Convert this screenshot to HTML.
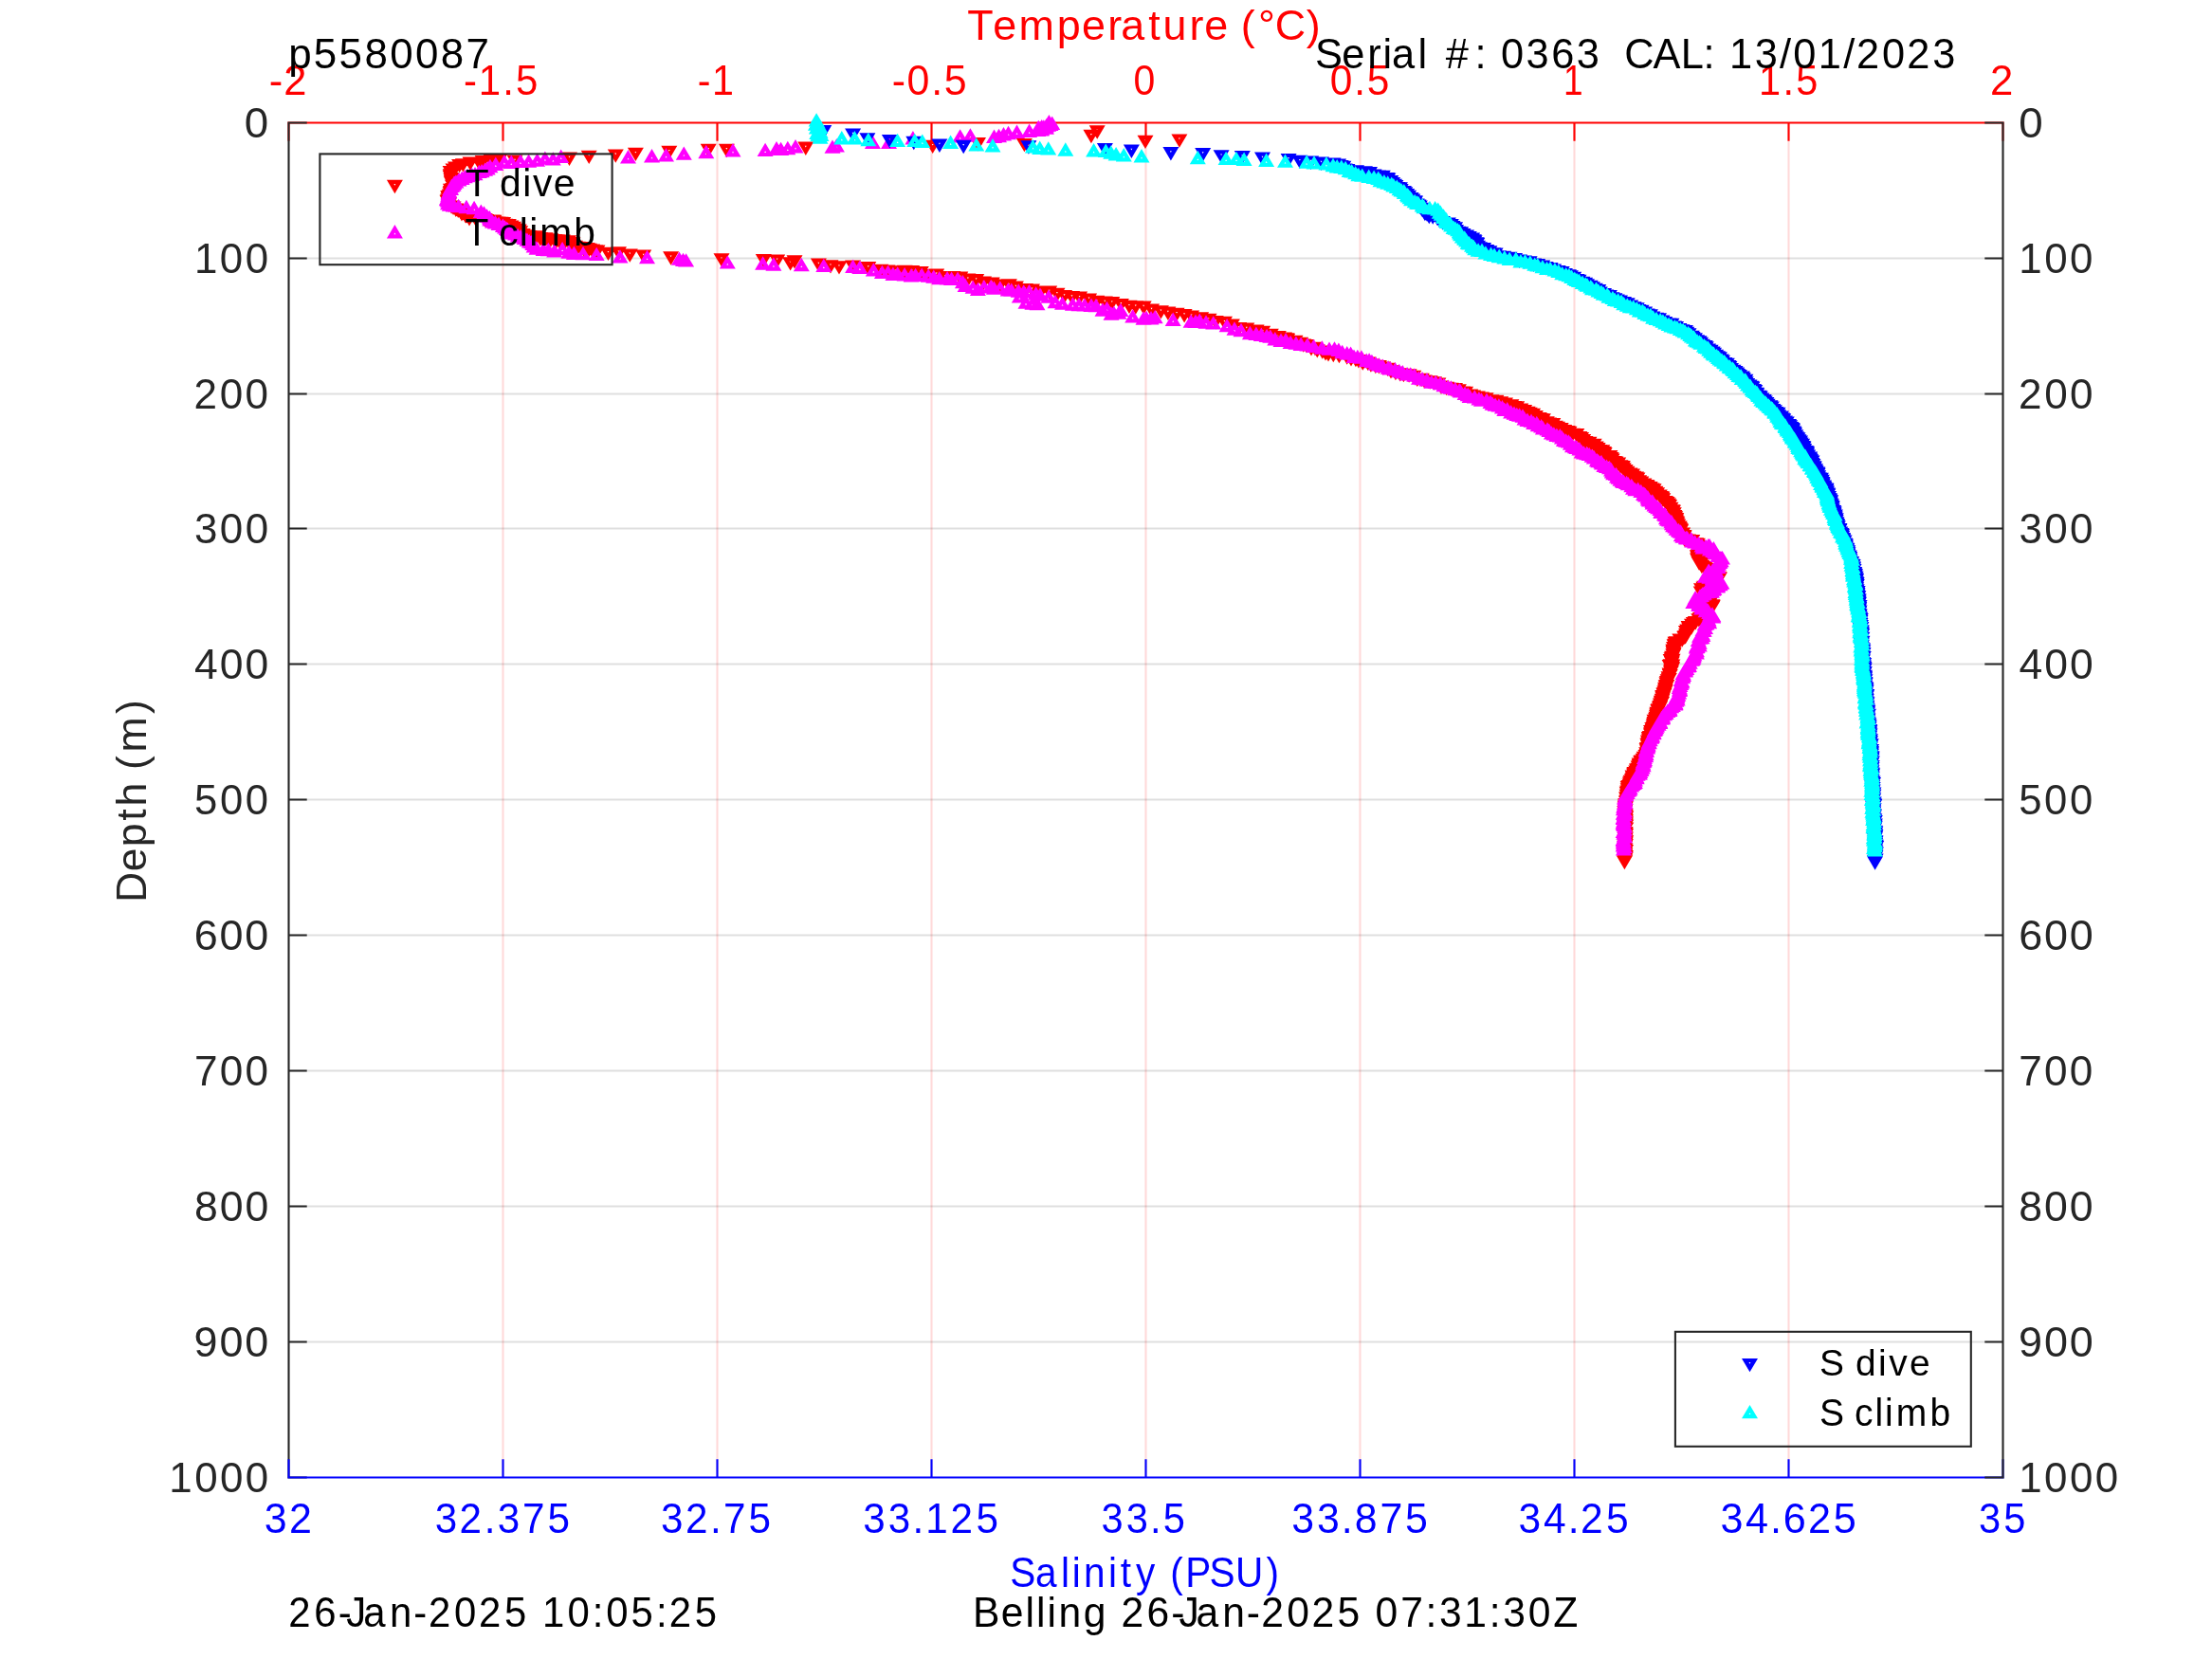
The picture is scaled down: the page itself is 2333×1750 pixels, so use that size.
<!DOCTYPE html>
<html lang="en"><head><meta charset="utf-8"><title>p5580087 CTD profile</title>
<style>html,body{margin:0;padding:0;background:#fff}body{width:2333px;height:1750px;overflow:hidden}svg{display:block;will-change:transform}text{font-family:"Liberation Sans",sans-serif;font-kerning:none;white-space:pre}</style></head><body>
<svg width="2333" height="1750" viewBox="0 0 2333 1750">
<rect width="2333" height="1750" fill="#fff"/>
<path d="M530.5 129.5V1558.5M756.5 129.5V1558.5M982.5 129.5V1558.5M1208.5 129.5V1558.5M1434.5 129.5V1558.5M1660.5 129.5V1558.5M1886.5 129.5V1558.5" stroke="#ff0000" stroke-opacity="0.15" stroke-width="2.1" fill="none"/>
<path d="M304.5 272.5H2112.5M304.5 415.5H2112.5M304.5 557.5H2112.5M304.5 700.5H2112.5M304.5 843.5H2112.5M304.5 986.5H2112.5M304.5 1129.5H2112.5M304.5 1272.5H2112.5M304.5 1415.5H2112.5" stroke="#262626" stroke-opacity="0.15" stroke-width="2.1" fill="none"/>
<path d="M303.4 129.5H2113.6M304.5 129.5v19.2M530.5 129.5v19.2M756.5 129.5v19.2M982.5 129.5v19.2M1208.5 129.5v19.2M1434.5 129.5v19.2M1660.5 129.5v19.2M1886.5 129.5v19.2M2112.5 129.5v19.2" stroke="#ff0000" stroke-width="2.1" fill="none"/>
<path d="M304.5 128.4V1559.5M304.5 129.5h19.2M304.5 272.5h19.2M304.5 415.5h19.2M304.5 557.5h19.2M304.5 700.5h19.2M304.5 843.5h19.2M304.5 986.5h19.2M304.5 1129.5h19.2M304.5 1272.5h19.2M304.5 1415.5h19.2M304.5 1558.5h19.2" stroke="#262626" stroke-width="2.1" fill="none"/>
<path d="M1243.9 155.8l-8.5 -14.4h17zM1243.9 147.3l0.9 -1.7h-1.9zM1208 157.1l-8.5 -14.4h17zM1208 148.6l0.9 -1.7h-1.9zM1157.2 146.7l-8.5 -14.4h17zM1157.2 138.2l0.9 -1.7h-1.9zM1150.9 151.2l-8.5 -14.4h17zM1150.9 142.7l0.9 -1.7h-1.9zM1080.4 160.3l-8.5 -14.4h17zM1080.4 151.8l0.9 -1.7h-1.9zM1031.5 159.5l-8.5 -14.4h17zM1031.5 151l0.9 -1.7h-1.9zM983.7 162.1l-8.5 -14.4h17zM983.7 153.6l0.9 -1.7h-1.9zM849.8 163.9l-8.5 -14.4h17zM849.8 155.4l0.9 -1.7h-1.9zM766.4 166.2l-8.5 -14.4h17zM766.4 157.7l0.9 -1.7h-1.9zM747.2 166.2l-8.5 -14.4h17zM747.2 157.7l0.9 -1.7h-1.9zM705.8 168.2l-8.5 -14.4h17zM705.8 159.7l0.9 -1.7h-1.9zM670.4 170.1l-8.5 -14.4h17zM670.4 161.6l0.9 -1.7h-1.9zM649.3 171.8l-8.5 -14.4h17zM649.3 163.3l0.9 -1.7h-1.9zM621.2 173.1l-8.5 -14.4h17zM621.2 164.6l0.9 -1.7h-1.9zM600.5 175l-8.5 -14.4h17zM600.5 166.5l0.9 -1.7h-1.9zM543 177.9l-8.5 -14.4h17zM543 169.4l0.9 -1.7h-1.9zM526.4 177.3l-8.5 -14.4h17zM518 177.1l-8.5 -14.4h17zM509.2 178.4l-8.5 -14.4h17zM505.7 180.3l-8.5 -14.4h17zM496 180l-8.5 -14.4h17zM488.4 181.6l-8.5 -14.4h17zM484.6 182.3l-8.5 -14.4h17zM480.5 184.8l-8.5 -14.4h17zM478.3 186.8l-8.5 -14.4h17zM478 187l-8.5 -14.4h17zM475.1 189.4l-8.5 -14.4h17zM476.1 190.8l-8.5 -14.4h17zM475.2 192.7l-8.5 -14.4h17zM475.1 194.1l-8.5 -14.4h17zM476 196.3l-8.5 -14.4h17zM475.9 197.6l-8.5 -14.4h17zM476.2 199.7l-8.5 -14.4h17zM476.5 200.8l-8.5 -14.4h17zM477.7 203.4l-8.5 -14.4h17zM477.6 204.5l-8.5 -14.4h17zM477.7 207.3l-8.5 -14.4h17zM475.4 208.2l-8.5 -14.4h17zM475.4 210.4l-8.5 -14.4h17zM475 211.7l-8.5 -14.4h17zM474.2 213.8l-8.5 -14.4h17zM472.7 215.4l-8.5 -14.4h17zM473.3 217.5l-8.5 -14.4h17zM472.6 218.9l-8.5 -14.4h17zM471.9 220.1l-8.5 -14.4h17zM473.6 222.1l-8.5 -14.4h17zM473.2 224l-8.5 -14.4h17zM476.1 225.8l-8.5 -14.4h17zM478.1 226.9l-8.5 -14.4h17zM480.8 229l-8.5 -14.4h17zM483.2 229.9l-8.5 -14.4h17zM485.4 230.9l-8.5 -14.4h17zM487 233.5l-8.5 -14.4h17zM490.6 234.9l-8.5 -14.4h17zM491.7 235.8l-8.5 -14.4h17zM495 238.5l-8.5 -14.4h17zM501.8 239l-8.5 -14.4h17zM511.2 239.3l-8.5 -14.4h17zM520.9 241.2l-8.5 -14.4h17zM512.6 240.4l-8.5 -14.4h17zM515.1 241.1l-8.5 -14.4h17zM519.2 240.8l-8.5 -14.4h17zM522 242.6l-8.5 -14.4h17zM525.1 243l-8.5 -14.4h17zM528 243.2l-8.5 -14.4h17zM530.6 243.5l-8.5 -14.4h17zM532.7 245.2l-8.5 -14.4h17zM536.3 245.3l-8.5 -14.4h17zM539 247l-8.5 -14.4h17zM541.5 248.1l-8.5 -14.4h17zM544.6 249.8l-8.5 -14.4h17zM547.3 251l-8.5 -14.4h17zM548.7 252.7l-8.5 -14.4h17zM551.2 255.3l-8.5 -14.4h17zM555.1 256.6l-8.5 -14.4h17zM557.9 257.3l-8.5 -14.4h17zM560 258.1l-8.5 -14.4h17zM563.7 257.6l-8.5 -14.4h17zM565.6 258.2l-8.5 -14.4h17zM569.7 259.4l-8.5 -14.4h17zM571.7 260.3l-8.5 -14.4h17zM575.1 259.7l-8.5 -14.4h17zM577.8 260.8l-8.5 -14.4h17zM580.9 260.7l-8.5 -14.4h17zM584.8 261.3l-8.5 -14.4h17zM587.2 261.7l-8.5 -14.4h17zM589.7 261.9l-8.5 -14.4h17zM593.4 261.9l-8.5 -14.4h17zM595.9 263.4l-8.5 -14.4h17zM599.6 262.7l-8.5 -14.4h17zM602.6 264.3l-8.5 -14.4h17zM604 265l-8.5 -14.4h17zM606.5 268.1l-8.5 -14.4h17zM609.3 269.2l-8.5 -14.4h17zM613.1 269.4l-8.5 -14.4h17zM615.4 270.6l-8.5 -14.4h17zM619.3 270.4l-8.5 -14.4h17zM621.4 271.1l-8.5 -14.4h17zM624.6 271.8l-8.5 -14.4h17zM627.5 272.6l-8.5 -14.4h17zM630 272.9l-8.5 -14.4h17zM641.5 275.1l-8.5 -14.4h17zM641.5 266.6l0.9 -1.7h-1.9zM652.5 274.6l-8.5 -14.4h17zM652.5 266.1l0.9 -1.7h-1.9zM664.3 276.8l-8.5 -14.4h17zM664.3 268.3l0.9 -1.7h-1.9zM678.7 277.9l-8.5 -14.4h17zM678.7 269.4l0.9 -1.7h-1.9zM707.6 279.7l-8.5 -14.4h17zM707.6 271.2l0.9 -1.7h-1.9zM761 281.6l-8.5 -14.4h17zM761 273.1l0.9 -1.7h-1.9zM805.3 282.5l-8.5 -14.4h17zM805.3 274l0.9 -1.7h-1.9zM819.7 282.8l-8.5 -14.4h17zM819.7 274.3l0.9 -1.7h-1.9zM833.6 285.6l-8.5 -14.4h17zM833.6 277.1l0.9 -1.7h-1.9zM838 283.6l-8.5 -14.4h17zM838 275.1l0.9 -1.7h-1.9zM863.4 286.9l-8.5 -14.4h17zM863.4 278.4l0.9 -1.7h-1.9zM876 288.6l-8.5 -14.4h17zM876 280.1l0.9 -1.7h-1.9zM885 289.6l-8.5 -14.4h17zM885 281.1l0.9 -1.7h-1.9zM899.6 289l-8.5 -14.4h17zM899.6 280.5l0.9 -1.7h-1.9zM915.8 290.5l-8.5 -14.4h17zM915.8 282l0.9 -1.7h-1.9zM928.9 293.2l-8.5 -14.4h17zM928.9 284.7l0.9 -1.7h-1.9zM936.1 293.8l-8.5 -14.4h17zM936.1 285.3l0.9 -1.7h-1.9zM944.7 294.6l-8.5 -14.4h17zM944.7 286.1l0.9 -1.7h-1.9zM954.1 294.2l-8.5 -14.4h17zM954.1 285.8l0.9 -1.7h-1.9zM961.6 294.3l-8.5 -14.4h17zM961.6 285.8l0.9 -1.7h-1.9zM971.3 295.4l-8.5 -14.4h17zM971.3 286.9l0.9 -1.7h-1.9zM979.7 298.3l-8.5 -14.4h17zM979.7 289.9l0.9 -1.7h-1.9zM987.7 297.8l-8.5 -14.4h17zM987.7 289.3l0.9 -1.7h-1.9zM996.8 300.4l-8.5 -14.4h17zM996.8 291.9l0.9 -1.7h-1.9zM1004.9 300.4l-8.5 -14.4h17zM1004.9 291.9l0.9 -1.7h-1.9zM1012.8 301l-8.5 -14.4h17zM1012.8 292.5l0.9 -1.7h-1.9zM1020.9 302.8l-8.5 -14.4h17zM1020.9 294.3l0.9 -1.7h-1.9zM1029.7 303.5l-8.5 -14.4h17zM1029.7 295l0.9 -1.7h-1.9zM1037.5 306l-8.5 -14.4h17zM1037.5 297.6l0.9 -1.7h-1.9zM1046.3 307l-8.5 -14.4h17zM1046.3 298.5l0.9 -1.7h-1.9zM1054.8 309l-8.5 -14.4h17zM1054.8 300.6l0.9 -1.7h-1.9zM1064.4 308.7l-8.5 -14.4h17zM1064.4 300.3l0.9 -1.7h-1.9zM1071.4 311l-8.5 -14.4h17zM1071.4 302.5l0.9 -1.7h-1.9zM1081.4 313.5l-8.5 -14.4h17zM1081.4 305.1l0.9 -1.7h-1.9zM1088.5 313.8l-8.5 -14.4h17zM1088.5 305.3l0.9 -1.7h-1.9zM1097.7 315.9l-8.5 -14.4h17zM1097.7 307.4l0.9 -1.7h-1.9zM1106.7 315.9l-8.5 -14.4h17zM1106.7 307.5l0.9 -1.7h-1.9zM1115 318.2l-8.5 -14.4h17zM1115 309.7l0.9 -1.7h-1.9zM1122.6 320.3l-8.5 -14.4h17zM1122.6 311.9l0.9 -1.7h-1.9zM1130.5 321.5l-8.5 -14.4h17zM1130.5 313l0.9 -1.7h-1.9zM1138.6 322l-8.5 -14.4h17zM1138.6 313.6l0.9 -1.7h-1.9zM1148.6 323.8l-8.5 -14.4h17zM1148.6 315.3l0.9 -1.7h-1.9zM1156.7 326.2l-8.5 -14.4h17zM1156.7 317.8l0.9 -1.7h-1.9zM1165.3 326.8l-8.5 -14.4h17zM1165.3 318.4l0.9 -1.7h-1.9zM1172.8 327.5l-8.5 -14.4h17zM1172.8 319.1l0.9 -1.7h-1.9zM1182.4 329.3l-8.5 -14.4h17zM1182.4 320.8l0.9 -1.7h-1.9zM1191 331.1l-8.5 -14.4h17zM1191 322.6l0.9 -1.7h-1.9zM1197.8 331.7l-8.5 -14.4h17zM1197.8 323.2l0.9 -1.7h-1.9zM1206.2 331.9l-8.5 -14.4h17zM1206.2 323.5l0.9 -1.7h-1.9zM1214.6 335l-8.5 -14.4h17zM1214.6 326.5l0.9 -1.7h-1.9zM1224.4 336.6l-8.5 -14.4h17zM1224.4 328.2l0.9 -1.7h-1.9zM1231.9 337.9l-8.5 -14.4h17zM1231.9 329.4l0.9 -1.7h-1.9zM1241.1 339.1l-8.5 -14.4h17zM1241.1 330.6l0.9 -1.7h-1.9zM1249.1 340.5l-8.5 -14.4h17zM1249.1 332l0.9 -1.7h-1.9zM1256.6 341.8l-8.5 -14.4h17zM1256.6 333.3l0.9 -1.7h-1.9zM1266.6 343.7l-8.5 -14.4h17zM1266.6 335.2l0.9 -1.7h-1.9zM1275.1 345.1l-8.5 -14.4h17zM1275.1 336.6l0.9 -1.7h-1.9zM1282.2 347.4l-8.5 -14.4h17zM1282.2 338.9l0.9 -1.7h-1.9zM1291.5 348.1l-8.5 -14.4h17zM1291.5 339.6l0.9 -1.7h-1.9zM1299.4 350.8l-8.5 -14.4h17zM1299.4 342.3l0.9 -1.7h-1.9zM1306.6 354.5l-8.5 -14.4h17zM1306.6 346l0.9 -1.7h-1.9zM1314.8 354.9l-8.5 -14.4h17zM1314.8 346.4l0.9 -1.7h-1.9zM1325.1 356.9l-8.5 -14.4h17zM1325.1 348.5l0.9 -1.7h-1.9zM1331.7 358.1l-8.5 -14.4h17zM1331.7 349.7l0.9 -1.7h-1.9zM1340.3 361.1l-8.5 -14.4h17zM1340.3 352.6l0.9 -1.7h-1.9zM1348.3 363.5l-8.5 -14.4h17zM1348.3 355l0.9 -1.7h-1.9zM1357.2 365.7l-8.5 -14.4h17zM1357.2 357.3l0.9 -1.7h-1.9zM1354.5 364.8l-8.5 -14.4h17zM1357.6 366.5l-8.5 -14.4h17zM1361.7 368.1l-8.5 -14.4h17zM1366 368.1l-8.5 -14.4h17zM1371.7 370.1l-8.5 -14.4h17zM1374.8 371.8l-8.5 -14.4h17zM1378 372.4l-8.5 -14.4h17zM1383 375.5l-8.5 -14.4h17zM1386.9 375.2l-8.5 -14.4h17zM1389.3 377.6l-8.5 -14.4h17zM1394.7 378.8l-8.5 -14.4h17zM1398 380.4l-8.5 -14.4h17zM1401 381.5l-8.5 -14.4h17zM1406.3 382.2l-8.5 -14.4h17zM1412.4 383.3l-8.5 -14.4h17zM1420.7 384.8l-8.5 -14.4h17zM1425 386.4l-8.5 -14.4h17zM1429.9 387.2l-8.5 -14.4h17zM1432.9 388.4l-8.5 -14.4h17zM1437.3 390.8l-8.5 -14.4h17zM1442.7 391l-8.5 -14.4h17zM1445.9 392.8l-8.5 -14.4h17zM1450.8 394.2l-8.5 -14.4h17zM1454.4 394.4l-8.5 -14.4h17zM1458.7 395.8l-8.5 -14.4h17zM1463.6 397.1l-8.5 -14.4h17zM1467 399.6l-8.5 -14.4h17zM1471.9 401.2l-8.5 -14.4h17zM1476.7 402.6l-8.5 -14.4h17zM1480.4 403.2l-8.5 -14.4h17zM1486.1 403.7l-8.5 -14.4h17zM1490.8 405.2l-8.5 -14.4h17zM1494.8 408.1l-8.5 -14.4h17zM1499.3 408.1l-8.5 -14.4h17zM1502.3 409.8l-8.5 -14.4h17zM1508.2 410.7l-8.5 -14.4h17zM1512.5 411.7l-8.5 -14.4h17zM1516.9 412.8l-8.5 -14.4h17zM1520 415.9l-8.5 -14.4h17zM1525.6 417.2l-8.5 -14.4h17zM1530.2 418.1l-8.5 -14.4h17zM1534.5 418.3l-8.5 -14.4h17zM1538.4 419.6l-8.5 -14.4h17zM1542.7 421.9l-8.5 -14.4h17zM1545.6 422.1l-8.5 -14.4h17zM1550.7 425l-8.5 -14.4h17zM1553.6 425.8l-8.5 -14.4h17zM1558.3 427l-8.5 -14.4h17zM1562.4 428l-8.5 -14.4h17zM1567.1 428.6l-8.5 -14.4h17zM1572.9 430.7l-8.5 -14.4h17zM1577.9 431.2l-8.5 -14.4h17zM1582.7 432.6l-8.5 -14.4h17zM1587.5 434l-8.5 -14.4h17zM1593.9 435.6l-8.5 -14.4h17zM1596.5 437.4l-8.5 -14.4h17zM1599.7 437.6l-8.5 -14.4h17zM1603.8 440l-8.5 -14.4h17zM1607.6 441.3l-8.5 -14.4h17zM1611.1 443.2l-8.5 -14.4h17zM1613.2 444.2l-8.5 -14.4h17zM1616.6 445.1l-8.5 -14.4h17zM1619.4 447.3l-8.5 -14.4h17zM1623.3 449.4l-8.5 -14.4h17zM1625 450.4l-8.5 -14.4h17zM1627.4 450.7l-8.5 -14.4h17zM1631.3 453.7l-8.5 -14.4h17zM1633.5 455l-8.5 -14.4h17zM1637.8 455.5l-8.5 -14.4h17zM1640.3 458.1l-8.5 -14.4h17zM1642.6 459.2l-8.5 -14.4h17zM1646.2 460.5l-8.5 -14.4h17zM1649.7 462.5l-8.5 -14.4h17zM1653.2 463.3l-8.5 -14.4h17zM1655 464.1l-8.5 -14.4h17zM1658.4 466.1l-8.5 -14.4h17zM1662.8 466.5l-8.5 -14.4h17zM1665.8 469.3l-8.5 -14.4h17zM1667.6 470.4l-8.5 -14.4h17zM1669.7 472.3l-8.5 -14.4h17zM1672 474.3l-8.5 -14.4h17zM1676 475.1l-8.5 -14.4h17zM1677.4 477.2l-8.5 -14.4h17zM1681.2 477.1l-8.5 -14.4h17zM1683.3 480l-8.5 -14.4h17zM1685.2 481.3l-8.5 -14.4h17zM1686.7 483.3l-8.5 -14.4h17zM1689.8 483.7l-8.5 -14.4h17zM1691.5 485.4l-8.5 -14.4h17zM1692.2 486.7l-8.5 -14.4h17zM1694.2 489.4l-8.5 -14.4h17zM1697.9 489.4l-8.5 -14.4h17zM1699.2 491.5l-8.5 -14.4h17zM1700.2 492.9l-8.5 -14.4h17zM1702.4 495.3l-8.5 -14.4h17zM1703.9 495.8l-8.5 -14.4h17zM1706.7 497l-8.5 -14.4h17zM1709 499.7l-8.5 -14.4h17zM1711.4 500.5l-8.5 -14.4h17zM1712.2 502.7l-8.5 -14.4h17zM1714.1 504.3l-8.5 -14.4h17zM1716 506.1l-8.5 -14.4h17zM1719 507.9l-8.5 -14.4h17zM1721.5 508.9l-8.5 -14.4h17zM1722.7 511.1l-8.5 -14.4h17zM1725.5 512l-8.5 -14.4h17zM1726.9 513l-8.5 -14.4h17zM1728.6 515.6l-8.5 -14.4h17zM1730.8 517l-8.5 -14.4h17zM1733.9 518.9l-8.5 -14.4h17zM1736.5 520.5l-8.5 -14.4h17zM1737.3 521.1l-8.5 -14.4h17zM1740.2 522.3l-8.5 -14.4h17zM1742.1 523.9l-8.5 -14.4h17zM1744.1 524.7l-8.5 -14.4h17zM1745.9 527.2l-8.5 -14.4h17zM1747.6 528.6l-8.5 -14.4h17zM1750.3 530.8l-8.5 -14.4h17zM1751.4 532.3l-8.5 -14.4h17zM1752.9 533l-8.5 -14.4h17zM1753.8 534.7l-8.5 -14.4h17zM1756.4 537.5l-8.5 -14.4h17zM1758.1 538.4l-8.5 -14.4h17zM1759.6 539.9l-8.5 -14.4h17zM1760.6 541.5l-8.5 -14.4h17zM1761.6 544.3l-8.5 -14.4h17zM1762 544.2l-8.5 -14.4h17zM1763.8 546.6l-8.5 -14.4h17zM1764.5 547.2l-8.5 -14.4h17zM1765.3 549.7l-8.5 -14.4h17zM1765.9 552.3l-8.5 -14.4h17zM1766.7 553.7l-8.5 -14.4h17zM1767.8 555.4l-8.5 -14.4h17zM1767.5 557.1l-8.5 -14.4h17zM1768.3 558.6l-8.5 -14.4h17zM1768.9 559.8l-8.5 -14.4h17zM1769.7 562l-8.5 -14.4h17zM1771.2 563.9l-8.5 -14.4h17zM1771.8 565.6l-8.5 -14.4h17zM1772.6 566.9l-8.5 -14.4h17zM1772.5 567.9l-8.5 -14.4h17zM1774 570.8l-8.5 -14.4h17zM1774.6 571l-8.5 -14.4h17zM1776 573.3l-8.5 -14.4h17zM1776.1 574.1l-8.5 -14.4h17zM1777 577.2l-8.5 -14.4h17zM1780.4 577.8l-8.5 -14.4h17zM1784.8 578.5l-8.5 -14.4h17zM1788.5 581.7l-8.5 -14.4h17zM1790.3 582.2l-8.5 -14.4h17zM1790.9 584.3l-8.5 -14.4h17zM1790.4 585.2l-8.5 -14.4h17zM1792.3 587l-8.5 -14.4h17zM1791.1 589.9l-8.5 -14.4h17zM1791.7 590.7l-8.5 -14.4h17zM1791.4 593.1l-8.5 -14.4h17zM1790.3 594.7l-8.5 -14.4h17zM1791.1 596.7l-8.5 -14.4h17zM1790.5 598l-8.5 -14.4h17zM1791.3 599.6l-8.5 -14.4h17zM1792 601.7l-8.5 -14.4h17zM1794.2 602.4l-8.5 -14.4h17zM1794.9 605.2l-8.5 -14.4h17zM1798.1 606.5l-8.5 -14.4h17zM1799 608.2l-8.5 -14.4h17zM1802.4 608.5l-8.5 -14.4h17zM1804.1 611l-8.5 -14.4h17zM1806.7 611.4l-8.5 -14.4h17zM1808.2 612.9l-8.5 -14.4h17zM1810.7 615l-8.5 -14.4h17zM1812.5 617.2l-8.5 -14.4h17zM1813.5 617.8l-8.5 -14.4h17zM1810.5 619l-8.5 -14.4h17zM1807 621.6l-8.5 -14.4h17zM1804.6 623.2l-8.5 -14.4h17zM1801.6 624.6l-8.5 -14.4h17zM1800.8 625.3l-8.5 -14.4h17zM1797.8 627.1l-8.5 -14.4h17zM1796.9 628.1l-8.5 -14.4h17zM1794.5 629.6l-8.5 -14.4h17zM1794.2 632.8l-8.5 -14.4h17zM1794.5 632.8l-8.5 -14.4h17zM1796.6 636l-8.5 -14.4h17zM1798.1 637.2l-8.5 -14.4h17zM1798 639.3l-8.5 -14.4h17zM1799 640.6l-8.5 -14.4h17zM1800.3 641.6l-8.5 -14.4h17zM1802.5 643.2l-8.5 -14.4h17zM1803.3 644.5l-8.5 -14.4h17zM1806 646.6l-8.5 -14.4h17zM1806.2 647.7l-8.5 -14.4h17zM1805.1 649.6l-8.5 -14.4h17zM1803.4 652.3l-8.5 -14.4h17zM1802.8 652.2l-8.5 -14.4h17zM1801 655.4l-8.5 -14.4h17zM1798.3 656.1l-8.5 -14.4h17zM1796.9 658.7l-8.5 -14.4h17zM1794.6 660.2l-8.5 -14.4h17zM1793.4 660.3l-8.5 -14.4h17zM1791.8 661.6l-8.5 -14.4h17zM1788.3 664.4l-8.5 -14.4h17zM1786.3 665.4l-8.5 -14.4h17zM1784.5 667.1l-8.5 -14.4h17zM1784.1 669.6l-8.5 -14.4h17zM1781.1 669.5l-8.5 -14.4h17zM1781.7 671.1l-8.5 -14.4h17zM1779.7 672.9l-8.5 -14.4h17zM1778.4 674.4l-8.5 -14.4h17zM1778.5 677.5l-8.5 -14.4h17zM1777.7 679.4l-8.5 -14.4h17zM1776.7 680.1l-8.5 -14.4h17zM1774.2 682.8l-8.5 -14.4h17zM1771.8 682.8l-8.5 -14.4h17zM1768.2 685.7l-8.5 -14.4h17zM1767 686.1l-8.5 -14.4h17zM1766.7 688.2l-8.5 -14.4h17zM1766.1 688.9l-8.5 -14.4h17zM1765.5 691.3l-8.5 -14.4h17zM1764.8 694l-8.5 -14.4h17zM1764.9 695.3l-8.5 -14.4h17zM1765.2 697.2l-8.5 -14.4h17zM1764.8 698.9l-8.5 -14.4h17zM1763.6 701.1l-8.5 -14.4h17zM1763 702.7l-8.5 -14.4h17zM1764.1 704.2l-8.5 -14.4h17zM1762.1 704.4l-8.5 -14.4h17zM1763.3 706.9l-8.5 -14.4h17zM1762.1 709.7l-8.5 -14.4h17zM1761.1 710.5l-8.5 -14.4h17zM1763.9 710l-8.5 -14.4h17zM1763.4 712.4l-8.5 -14.4h17zM1763.5 713.2l-8.5 -14.4h17zM1762.6 715l-8.5 -14.4h17zM1762.4 716.7l-8.5 -14.4h17zM1761 718.8l-8.5 -14.4h17zM1761.3 720.4l-8.5 -14.4h17zM1760 722.7l-8.5 -14.4h17zM1760.3 724.4l-8.5 -14.4h17zM1759.1 725.6l-8.5 -14.4h17zM1758.4 727.4l-8.5 -14.4h17zM1757.9 728.9l-8.5 -14.4h17zM1757.9 731.3l-8.5 -14.4h17zM1757.1 732l-8.5 -14.4h17zM1756.5 734.1l-8.5 -14.4h17zM1756.4 736.1l-8.5 -14.4h17zM1755.8 737.8l-8.5 -14.4h17zM1755 739.7l-8.5 -14.4h17zM1755 740.7l-8.5 -14.4h17zM1753.7 742.5l-8.5 -14.4h17zM1753.7 743.9l-8.5 -14.4h17zM1753.1 746.2l-8.5 -14.4h17zM1752.3 748.2l-8.5 -14.4h17zM1752.5 749.3l-8.5 -14.4h17zM1751.4 751l-8.5 -14.4h17zM1750.8 753.2l-8.5 -14.4h17zM1750.3 754.6l-8.5 -14.4h17zM1749.2 756.7l-8.5 -14.4h17zM1748.8 757.7l-8.5 -14.4h17zM1747.8 760.2l-8.5 -14.4h17zM1747.6 761.8l-8.5 -14.4h17zM1747.5 763.5l-8.5 -14.4h17zM1746.9 765.2l-8.5 -14.4h17zM1746.5 766.7l-8.5 -14.4h17zM1745 768.1l-8.5 -14.4h17zM1745 770.4l-8.5 -14.4h17zM1744.8 771.7l-8.5 -14.4h17zM1744.2 773l-8.5 -14.4h17zM1743.9 775l-8.5 -14.4h17zM1742.8 776.5l-8.5 -14.4h17zM1743 778.3l-8.5 -14.4h17zM1741.5 779.5l-8.5 -14.4h17zM1741.6 781.7l-8.5 -14.4h17zM1741.4 783l-8.5 -14.4h17zM1740.3 785.3l-8.5 -14.4h17zM1739.3 786.3l-8.5 -14.4h17zM1739.4 788.2l-8.5 -14.4h17zM1738.4 789.9l-8.5 -14.4h17zM1738.7 791.9l-8.5 -14.4h17zM1737.8 793.1l-8.5 -14.4h17zM1738.5 795.5l-8.5 -14.4h17zM1737.4 797.5l-8.5 -14.4h17zM1737 798.6l-8.5 -14.4h17zM1737.7 800.8l-8.5 -14.4h17zM1736.7 802.7l-8.5 -14.4h17zM1736.9 804.4l-8.5 -14.4h17zM1735.9 805.5l-8.5 -14.4h17zM1734.2 807.2l-8.5 -14.4h17zM1733.1 809.1l-8.5 -14.4h17zM1731.4 810.8l-8.5 -14.4h17zM1730.7 811.7l-8.5 -14.4h17zM1729.1 814l-8.5 -14.4h17zM1729.1 815.4l-8.5 -14.4h17zM1728.1 817l-8.5 -14.4h17zM1727.8 819.1l-8.5 -14.4h17zM1726.4 819.9l-8.5 -14.4h17zM1725.7 822l-8.5 -14.4h17zM1723.9 823.5l-8.5 -14.4h17zM1723.5 824.8l-8.5 -14.4h17zM1722 826.8l-8.5 -14.4h17zM1722.1 829l-8.5 -14.4h17zM1721.4 830.4l-8.5 -14.4h17zM1720.1 832.1l-8.5 -14.4h17zM1719.4 833.8l-8.5 -14.4h17zM1719 836l-8.5 -14.4h17zM1717.9 837.3l-8.5 -14.4h17zM1717.1 838.5l-8.5 -14.4h17zM1717.1 840.6l-8.5 -14.4h17zM1716.8 842.8l-8.5 -14.4h17zM1716.1 844.1l-8.5 -14.4h17zM1716.8 846l-8.5 -14.4h17zM1716 847.2l-8.5 -14.4h17zM1715.6 849.6l-8.5 -14.4h17zM1715.9 851l-8.5 -14.4h17zM1715.7 853.1l-8.5 -14.4h17zM1715.4 854.2l-8.5 -14.4h17zM1714.7 856.4l-8.5 -14.4h17zM1714.3 858l-8.5 -14.4h17zM1714.2 859.3l-8.5 -14.4h17zM1714.1 860.8l-8.5 -14.4h17zM1714 862.9l-8.5 -14.4h17zM1713.6 864.3l-8.5 -14.4h17zM1713.9 866.9l-8.5 -14.4h17zM1714.3 868l-8.5 -14.4h17zM1714.8 869.7l-8.5 -14.4h17zM1714.2 872l-8.5 -14.4h17zM1714.4 873.4l-8.5 -14.4h17zM1714.5 875.2l-8.5 -14.4h17zM1714.5 877l-8.5 -14.4h17zM1714.8 879l-8.5 -14.4h17zM1713.7 880l-8.5 -14.4h17zM1714.8 881.9l-8.5 -14.4h17zM1713.6 883.7l-8.5 -14.4h17zM1714.2 886.3l-8.5 -14.4h17zM1714.1 887.7l-8.5 -14.4h17zM1714.6 888.7l-8.5 -14.4h17zM1714.3 891.6l-8.5 -14.4h17zM1714.2 892.8l-8.5 -14.4h17zM1713.9 895l-8.5 -14.4h17zM1714.7 895.7l-8.5 -14.4h17zM1714.2 897.9l-8.5 -14.4h17zM1714.3 899.3l-8.5 -14.4h17zM1713.8 901.2l-8.5 -14.4h17zM1714 903.6l-8.5 -14.4h17zM1714.5 905.3l-8.5 -14.4h17zM1714.2 906.2l-8.5 -14.4h17zM1713.8 908.7l-8.5 -14.4h17zM1713.7 910.2l-8.5 -14.4h17zM1714.4 911.5l-8.5 -14.4h17zM1714.3 913.2l-8.5 -14.4h17zM1713.7 915.9l-8.5 -14.4h17zM1713.4 917.2l-8.5 -14.4h17z" fill="#ff0000" fill-rule="nonzero"/>
<path d="M1109.7 122.6l8.5 14.4h-17zM1106.4 120.9l8.5 14.4h-17zM1107.9 123.5l8.5 14.4h-17zM1106.7 123l8.5 14.4h-17zM1105.7 124.4l8.5 14.4h-17zM1104.7 123.8l8.5 14.4h-17zM1103.5 125l8.5 14.4h-17zM1103.4 127.3l8.5 14.4h-17zM1103.1 126.5l8.5 14.4h-17zM1100.8 126.2l8.5 14.4h-17zM1098.7 126l8.5 14.4h-17zM1099 127.2l8.5 14.4h-17zM1097.7 129l8.5 14.4h-17zM1097.1 128.2l8.5 14.4h-17zM1095.3 126.8l8.5 14.4h-17zM1098.7 128.8l8.5 14.4h-17zM1098.7 137.3l-0.9 1.7h1.9zM1094.6 129.5l8.5 14.4h-17zM1094.6 138l-0.9 1.7h1.9zM1085.6 130.6l8.5 14.4h-17zM1085.6 139.1l-0.9 1.7h1.9zM1072.5 131.5l8.5 14.4h-17zM1072.5 140l-0.9 1.7h1.9zM1063.5 132.8l8.5 14.4h-17zM1063.5 141.3l-0.9 1.7h1.9zM1058.5 134l8.5 14.4h-17zM1058.5 142.5l-0.9 1.7h1.9zM1053.5 135.8l8.5 14.4h-17zM1053.5 144.3l-0.9 1.7h1.9zM1048.5 136.5l8.5 14.4h-17zM1048.5 145l-0.9 1.7h1.9zM1023.4 135.3l8.5 14.4h-17zM1023.4 143.8l-0.9 1.7h1.9zM1012.6 136.2l8.5 14.4h-17zM1012.6 144.7l-0.9 1.7h1.9zM962.9 138l8.5 14.4h-17zM962.9 146.5l-0.9 1.7h1.9zM937.5 142.5l8.5 14.4h-17zM937.5 151l-0.9 1.7h1.9zM920.4 142.5l8.5 14.4h-17zM920.4 151l-0.9 1.7h1.9zM882.4 146.1l8.5 14.4h-17zM882.4 154.6l-0.9 1.7h1.9zM878 147.4l8.5 14.4h-17zM878 155.9l-0.9 1.7h1.9zM839 147l8.5 14.4h-17zM839 155.5l-0.9 1.7h1.9zM830.8 148.8l8.5 14.4h-17zM830.8 157.3l-0.9 1.7h1.9zM823.6 149.7l8.5 14.4h-17zM823.6 158.2l-0.9 1.7h1.9zM819 149.1l8.5 14.4h-17zM819 157.6l-0.9 1.7h1.9zM807.1 150.7l8.5 14.4h-17zM807.1 159.2l-0.9 1.7h1.9zM773 151.1l8.5 14.4h-17zM773 159.6l-0.9 1.7h1.9zM744.8 152.8l8.5 14.4h-17zM744.8 161.3l-0.9 1.7h1.9zM721.3 154.4l8.5 14.4h-17zM721.3 162.9l-0.9 1.7h1.9zM702.5 156l8.5 14.4h-17zM702.5 164.5l-0.9 1.7h1.9zM687.5 157.1l8.5 14.4h-17zM687.5 165.6l-0.9 1.7h1.9zM662.5 158l8.5 14.4h-17zM662.5 166.5l-0.9 1.7h1.9zM591.7 157.6l8.5 14.4h-17zM591.7 166l-0.9 1.7h1.9zM583.3 160.2l8.5 14.4h-17zM583.3 168.7l-0.9 1.7h1.9zM574.9 159.4l8.5 14.4h-17zM574.9 167.8l-0.9 1.7h1.9zM566.6 161.4l8.5 14.4h-17zM566.6 169.9l-0.9 1.7h1.9zM557.6 162.4l8.5 14.4h-17zM557.6 170.9l-0.9 1.7h1.9zM548.9 162.6l8.5 14.4h-17zM548.9 171.1l-0.9 1.7h1.9zM539.3 163.5l8.5 14.4h-17zM539.3 172l-0.9 1.7h1.9zM531.9 163.1l8.5 14.4h-17zM531.9 171.6l-0.9 1.7h1.9zM522.8 165.6l8.5 14.4h-17zM522.8 174.1l-0.9 1.7h1.9zM516.9 167.8l8.5 14.4h-17zM514.2 170l8.5 14.4h-17zM511.5 171.4l8.5 14.4h-17zM508.1 172.9l8.5 14.4h-17zM505.3 173.7l8.5 14.4h-17zM501 175.9l8.5 14.4h-17zM497.6 176.6l8.5 14.4h-17zM493.1 177.8l8.5 14.4h-17zM490.2 178.9l8.5 14.4h-17zM487.2 180.6l8.5 14.4h-17zM484 182.1l8.5 14.4h-17zM480.9 184.2l8.5 14.4h-17zM479 185.6l8.5 14.4h-17zM478.1 187.4l8.5 14.4h-17zM476.4 188.5l8.5 14.4h-17zM475.6 191.3l8.5 14.4h-17zM474.7 191.6l8.5 14.4h-17zM473.8 194.4l8.5 14.4h-17zM473.4 195.2l8.5 14.4h-17zM472.9 196.8l8.5 14.4h-17zM472.6 198.9l8.5 14.4h-17zM471.7 201.7l8.5 14.4h-17zM471.3 202.9l8.5 14.4h-17zM472.3 204.2l8.5 14.4h-17zM472.5 206.9l8.5 14.4h-17zM474.3 208.3l8.5 14.4h-17zM478.2 209.1l8.5 14.4h-17zM483.6 209.8l8.5 14.4h-17zM483.6 218.3l-0.9 1.7h1.9zM491.9 210.8l8.5 14.4h-17zM491.9 219.3l-0.9 1.7h1.9zM500.1 211.8l8.5 14.4h-17zM500.1 220.3l-0.9 1.7h1.9zM507.3 215.5l8.5 14.4h-17zM507.3 224l-0.9 1.7h1.9zM510.5 217.3l8.5 14.4h-17zM511.4 219.7l8.5 14.4h-17zM513.6 220.3l8.5 14.4h-17zM516.4 222.1l8.5 14.4h-17zM516.8 224l8.5 14.4h-17zM519.5 226.2l8.5 14.4h-17zM522.4 227l8.5 14.4h-17zM526 228.6l8.5 14.4h-17zM530.4 230.6l8.5 14.4h-17zM532.5 232.2l8.5 14.4h-17zM534.3 233.7l8.5 14.4h-17zM535.5 234.6l8.5 14.4h-17zM537.6 236.3l8.5 14.4h-17zM539.3 238.1l8.5 14.4h-17zM543.6 239.1l8.5 14.4h-17zM546.2 241l8.5 14.4h-17zM549.2 242.1l8.5 14.4h-17zM553.2 243.7l8.5 14.4h-17zM556 245.4l8.5 14.4h-17zM558.4 247.1l8.5 14.4h-17zM560.7 247.9l8.5 14.4h-17zM561.8 249.7l8.5 14.4h-17zM563.1 252.2l8.5 14.4h-17zM566 254.3l8.5 14.4h-17zM573.1 255.5l8.5 14.4h-17zM578.3 255.8l8.5 14.4h-17zM584.7 257.1l8.5 14.4h-17zM593.1 254.9l8.5 14.4h-17zM593.1 263.4l-0.9 1.7h1.9zM600 258.3l8.5 14.4h-17zM600 266.8l-0.9 1.7h1.9zM605.4 259.6l8.5 14.4h-17zM605.4 268.1l-0.9 1.7h1.9zM615 259.8l8.5 14.4h-17zM615 268.3l-0.9 1.7h1.9zM629.2 260.7l8.5 14.4h-17zM629.2 269.2l-0.9 1.7h1.9zM654 263.2l8.5 14.4h-17zM654 271.7l-0.9 1.7h1.9zM682.5 263.8l8.5 14.4h-17zM682.5 272.3l-0.9 1.7h1.9zM716.4 265.4l8.5 14.4h-17zM716.4 273.9l-0.9 1.7h1.9zM720.5 266.7l8.5 14.4h-17zM720.5 275.2l-0.9 1.7h1.9zM723.6 267.2l8.5 14.4h-17zM723.6 275.7l-0.9 1.7h1.9zM767.3 269.2l8.5 14.4h-17zM767.3 277.7l-0.9 1.7h1.9zM804.6 270.3l8.5 14.4h-17zM804.6 278.8l-0.9 1.7h1.9zM815.9 271.3l8.5 14.4h-17zM815.9 279.8l-0.9 1.7h1.9zM845.3 271.8l8.5 14.4h-17zM845.3 280.3l-0.9 1.7h1.9zM868.8 272.7l8.5 14.4h-17zM868.8 281.2l-0.9 1.7h1.9zM899.6 273.6l8.5 14.4h-17zM899.6 282.1l-0.9 1.7h1.9zM906.8 274.5l8.5 14.4h-17zM906.8 283l-0.9 1.7h1.9zM921.3 277.2l8.5 14.4h-17zM921.3 285.7l-0.9 1.7h1.9zM930.4 279.7l8.5 14.4h-17zM930.4 288.2l-0.9 1.7h1.9zM936.6 279.6l8.5 14.4h-17zM936.6 288.1l-0.9 1.7h1.9zM941.9 281.6l8.5 14.4h-17zM941.9 290l-0.9 1.7h1.9zM946.7 281.2l8.5 14.4h-17zM946.7 289.7l-0.9 1.7h1.9zM954.1 282.1l8.5 14.4h-17zM954.1 290.6l-0.9 1.7h1.9zM961.2 283l8.5 14.4h-17zM961.2 291.4l-0.9 1.7h1.9zM965.6 282.7l8.5 14.4h-17zM965.6 291.2l-0.9 1.7h1.9zM972.2 282.5l8.5 14.4h-17zM972.2 291l-0.9 1.7h1.9zM979.2 283.4l8.5 14.4h-17zM979.2 291.8l-0.9 1.7h1.9zM984.8 284.4l8.5 14.4h-17zM984.8 292.9l-0.9 1.7h1.9zM990.7 285.9l8.5 14.4h-17zM990.7 294.4l-0.9 1.7h1.9zM999.1 286l8.5 14.4h-17zM999.1 294.5l-0.9 1.7h1.9zM1003.6 286.5l8.5 14.4h-17zM1003.6 294.9l-0.9 1.7h1.9zM1010.1 286.6l8.5 14.4h-17zM1010.1 295.1l-0.9 1.7h1.9zM1015.4 289.9l8.5 14.4h-17zM1015.4 298.3l-0.9 1.7h1.9zM1018.1 293.6l8.5 14.4h-17zM1018.1 302.1l-0.9 1.7h1.9zM1026.1 295.4l8.5 14.4h-17zM1026.1 303.9l-0.9 1.7h1.9zM1031.4 297.7l8.5 14.4h-17zM1031.4 306.2l-0.9 1.7h1.9zM1037.9 295.1l8.5 14.4h-17zM1037.9 303.6l-0.9 1.7h1.9zM1045.2 294.7l8.5 14.4h-17zM1045.2 303.1l-0.9 1.7h1.9zM1048.4 296.4l8.5 14.4h-17zM1048.4 304.9l-0.9 1.7h1.9zM1054.8 296.2l8.5 14.4h-17zM1054.8 304.7l-0.9 1.7h1.9zM1063.2 298.2l8.5 14.4h-17zM1063.2 306.7l-0.9 1.7h1.9zM1066.8 298.4l8.5 14.4h-17zM1066.8 306.9l-0.9 1.7h1.9zM1074.2 299.3l8.5 14.4h-17zM1074.2 307.8l-0.9 1.7h1.9zM1079.7 300.2l8.5 14.4h-17zM1079.7 308.7l-0.9 1.7h1.9zM1085.5 299.8l8.5 14.4h-17zM1085.5 308.3l-0.9 1.7h1.9zM1092.6 302.2l8.5 14.4h-17zM1092.6 310.7l-0.9 1.7h1.9zM1075.3 305.2l8.5 14.4h-17zM1075.3 313.7l-0.9 1.7h1.9zM1082 311.3l8.5 14.4h-17zM1082 319.8l-0.9 1.7h1.9zM1088.9 312.4l8.5 14.4h-17zM1088.9 320.9l-0.9 1.7h1.9zM1094 312.8l8.5 14.4h-17zM1094 321.3l-0.9 1.7h1.9zM1097 303.4l8.5 14.4h-17zM1097 311.9l-0.9 1.7h1.9zM1106 305.3l8.5 14.4h-17zM1106 313.8l-0.9 1.7h1.9zM1113 310.8l8.5 14.4h-17zM1113 319.3l-0.9 1.7h1.9zM1120.5 312.4l8.5 14.4h-17zM1120.5 320.9l-0.9 1.7h1.9zM1131.4 313.3l8.5 14.4h-17zM1131.4 321.8l-0.9 1.7h1.9zM1138 313.8l8.5 14.4h-17zM1138 322.3l-0.9 1.7h1.9zM1144 314.2l8.5 14.4h-17zM1144 322.7l-0.9 1.7h1.9zM1151 314.6l8.5 14.4h-17zM1151 323.1l-0.9 1.7h1.9zM1156 314.8l8.5 14.4h-17zM1156 323.3l-0.9 1.7h1.9zM1163 319.3l8.5 14.4h-17zM1163 327.8l-0.9 1.7h1.9zM1167.5 317.8l8.5 14.4h-17zM1167.5 326.3l-0.9 1.7h1.9zM1172 323.3l8.5 14.4h-17zM1172 331.8l-0.9 1.7h1.9zM1174.8 322.4l8.5 14.4h-17zM1174.8 330.9l-0.9 1.7h1.9zM1180 322.3l8.5 14.4h-17zM1180 330.8l-0.9 1.7h1.9zM1182 319.7l8.5 14.4h-17zM1182 328.2l-0.9 1.7h1.9zM1194.7 326l8.5 14.4h-17zM1194.7 334.5l-0.9 1.7h1.9zM1206 328.3l8.5 14.4h-17zM1206 336.8l-0.9 1.7h1.9zM1209.1 327.8l8.5 14.4h-17zM1209.1 336.3l-0.9 1.7h1.9zM1214 328l8.5 14.4h-17zM1214 336.5l-0.9 1.7h1.9zM1218.2 326.9l8.5 14.4h-17zM1218.2 335.4l-0.9 1.7h1.9zM1237.2 329.6l8.5 14.4h-17zM1237.2 338.1l-0.9 1.7h1.9zM1256.1 331.4l8.5 14.4h-17zM1256.1 339.9l-0.9 1.7h1.9zM1261 331.6l8.5 14.4h-17zM1261 340.1l-0.9 1.7h1.9zM1265.2 330.5l8.5 14.4h-17zM1265.2 339l-0.9 1.7h1.9zM1272 332.3l8.5 14.4h-17zM1272 340.8l-0.9 1.7h1.9zM1279.7 333.2l8.5 14.4h-17zM1279.7 341.7l-0.9 1.7h1.9zM1294.1 335.9l8.5 14.4h-17zM1294.1 344.4l-0.9 1.7h1.9zM1302 339.3l8.5 14.4h-17zM1302 347.8l-0.9 1.7h1.9zM1309 340.8l8.5 14.4h-17zM1309 349.3l-0.9 1.7h1.9zM1318.4 343.8l8.5 14.4h-17zM1324.9 344.6l8.5 14.4h-17zM1330.3 345.6l8.5 14.4h-17zM1336.1 346.7l8.5 14.4h-17zM1339.8 347.4l8.5 14.4h-17zM1344.8 350.1l8.5 14.4h-17zM1351 351.6l8.5 14.4h-17zM1356.1 351l8.5 14.4h-17zM1361.1 353.7l8.5 14.4h-17zM1366.9 354.4l8.5 14.4h-17zM1372.1 355.5l8.5 14.4h-17zM1378.8 356.2l8.5 14.4h-17zM1385.6 357.7l8.5 14.4h-17zM1394.3 359.3l8.5 14.4h-17zM1402 360.4l8.5 14.4h-17zM1407.5 360.2l8.5 14.4h-17zM1411.9 361.6l8.5 14.4h-17zM1415.7 363.8l8.5 14.4h-17zM1420.7 365l8.5 14.4h-17zM1424.6 365.4l8.5 14.4h-17zM1428 368.5l8.5 14.4h-17zM1431.8 368.7l8.5 14.4h-17zM1435.9 369.3l8.5 14.4h-17zM1441.2 372.5l8.5 14.4h-17zM1444.1 372.2l8.5 14.4h-17zM1446.9 373.8l8.5 14.4h-17zM1451.1 376.1l8.5 14.4h-17zM1454.6 377.2l8.5 14.4h-17zM1458.3 378.5l8.5 14.4h-17zM1464.2 380.3l8.5 14.4h-17zM1466.4 381.2l8.5 14.4h-17zM1471.5 382l8.5 14.4h-17zM1475.8 383.8l8.5 14.4h-17zM1479.3 385.1l8.5 14.4h-17zM1484.1 387.1l8.5 14.4h-17zM1487.7 387.2l8.5 14.4h-17zM1491.8 388.3l8.5 14.4h-17zM1496.5 391.3l8.5 14.4h-17zM1500.1 391.9l8.5 14.4h-17zM1505 393l8.5 14.4h-17zM1509.8 395.4l8.5 14.4h-17zM1514.2 395.7l8.5 14.4h-17zM1519 396.8l8.5 14.4h-17zM1522.9 398.8l8.5 14.4h-17zM1527.2 400.5l8.5 14.4h-17zM1530.4 401.3l8.5 14.4h-17zM1534.9 402.8l8.5 14.4h-17zM1539.2 404.1l8.5 14.4h-17zM1540.5 405.2l8.5 14.4h-17zM1545.1 407.5l8.5 14.4h-17zM1548.2 408.8l8.5 14.4h-17zM1550.1 410.5l8.5 14.4h-17zM1555.3 411.2l8.5 14.4h-17zM1559.9 413.1l8.5 14.4h-17zM1562.5 414.3l8.5 14.4h-17zM1568 414.4l8.5 14.4h-17zM1572 416.5l8.5 14.4h-17zM1574.1 418.4l8.5 14.4h-17zM1577.1 419.4l8.5 14.4h-17zM1580.9 420.2l8.5 14.4h-17zM1584.4 422l8.5 14.4h-17zM1586.8 424.5l8.5 14.4h-17zM1589.7 424l8.5 14.4h-17zM1593.6 427.1l8.5 14.4h-17zM1597 428.4l8.5 14.4h-17zM1599.8 429.7l8.5 14.4h-17zM1602.6 430.3l8.5 14.4h-17zM1606 431.3l8.5 14.4h-17zM1608 434.2l8.5 14.4h-17zM1611 435.6l8.5 14.4h-17zM1615 436.4l8.5 14.4h-17zM1617.6 438.7l8.5 14.4h-17zM1620.8 438.8l8.5 14.4h-17zM1622.2 440.8l8.5 14.4h-17zM1625.6 442.1l8.5 14.4h-17zM1627.4 444.1l8.5 14.4h-17zM1632 445.2l8.5 14.4h-17zM1633.9 446.7l8.5 14.4h-17zM1636.4 449.2l8.5 14.4h-17zM1638.9 450.2l8.5 14.4h-17zM1641.9 451.5l8.5 14.4h-17zM1645.3 452.1l8.5 14.4h-17zM1647.4 454.1l8.5 14.4h-17zM1649.4 456.6l8.5 14.4h-17zM1651.7 457.3l8.5 14.4h-17zM1654.4 458.2l8.5 14.4h-17zM1656.4 460.3l8.5 14.4h-17zM1658.5 462.8l8.5 14.4h-17zM1661.4 463.8l8.5 14.4h-17zM1663 464.5l8.5 14.4h-17zM1665.9 466l8.5 14.4h-17zM1668.2 469l8.5 14.4h-17zM1670.5 470.2l8.5 14.4h-17zM1673.7 470.8l8.5 14.4h-17zM1676.2 471.7l8.5 14.4h-17zM1679.1 473.4l8.5 14.4h-17zM1681.3 475.1l8.5 14.4h-17zM1684.4 477.9l8.5 14.4h-17zM1685.8 478.9l8.5 14.4h-17zM1688.9 479.8l8.5 14.4h-17zM1689.5 481.2l8.5 14.4h-17zM1691.9 483.6l8.5 14.4h-17zM1694.5 484.5l8.5 14.4h-17zM1697.5 485.8l8.5 14.4h-17zM1699.5 488.1l8.5 14.4h-17zM1700.3 490.1l8.5 14.4h-17zM1701.7 491.8l8.5 14.4h-17zM1704.4 492.7l8.5 14.4h-17zM1705.5 495.2l8.5 14.4h-17zM1707.1 496.4l8.5 14.4h-17zM1709 498.3l8.5 14.4h-17zM1711.1 499.9l8.5 14.4h-17zM1712.5 500.7l8.5 14.4h-17zM1715.6 501.7l8.5 14.4h-17zM1717.3 502.9l8.5 14.4h-17zM1720.8 504.8l8.5 14.4h-17zM1722.5 507.3l8.5 14.4h-17zM1724.8 508.9l8.5 14.4h-17zM1727.6 508.5l8.5 14.4h-17zM1730.8 510.7l8.5 14.4h-17zM1733.5 513.3l8.5 14.4h-17zM1734.7 514l8.5 14.4h-17zM1735.8 515.2l8.5 14.4h-17zM1737.9 517.1l8.5 14.4h-17zM1738.4 519.2l8.5 14.4h-17zM1739.6 520.2l8.5 14.4h-17zM1742.8 521.3l8.5 14.4h-17zM1743 523.1l8.5 14.4h-17zM1745 525.1l8.5 14.4h-17zM1746.8 526.6l8.5 14.4h-17zM1748.6 527.9l8.5 14.4h-17zM1750.8 529.7l8.5 14.4h-17zM1751.7 532.2l8.5 14.4h-17zM1752.4 532.6l8.5 14.4h-17zM1755.4 534.8l8.5 14.4h-17zM1756.6 535.8l8.5 14.4h-17zM1757.4 538.9l8.5 14.4h-17zM1758.6 540.3l8.5 14.4h-17zM1760.6 541.2l8.5 14.4h-17zM1762.9 542.8l8.5 14.4h-17zM1763.4 544.8l8.5 14.4h-17zM1764.6 546.9l8.5 14.4h-17zM1766.7 548l8.5 14.4h-17zM1768.1 550.4l8.5 14.4h-17zM1770.5 551.7l8.5 14.4h-17zM1770.9 552.4l8.5 14.4h-17zM1772.6 553.3l8.5 14.4h-17zM1773.3 556.8l8.5 14.4h-17zM1774.9 558.3l8.5 14.4h-17zM1778.3 559.8l8.5 14.4h-17zM1779.6 560l8.5 14.4h-17zM1783.6 560.9l8.5 14.4h-17zM1784.7 563.1l8.5 14.4h-17zM1787.6 564.2l8.5 14.4h-17zM1791.5 565.6l8.5 14.4h-17zM1795 568.1l8.5 14.4h-17zM1796.1 570.1l8.5 14.4h-17zM1799 568.7l8.5 14.4h-17zM1801.8 567.9l8.5 14.4h-17zM1803.1 568.1l8.5 14.4h-17zM1803.4 572l8.5 14.4h-17zM1807.4 571l8.5 14.4h-17zM1807.9 573.6l8.5 14.4h-17zM1806.7 573.3l8.5 14.4h-17zM1807.8 573l8.5 14.4h-17zM1808.7 574.6l8.5 14.4h-17zM1809.6 575.8l8.5 14.4h-17zM1811.9 578.6l8.5 14.4h-17zM1814.8 581.1l8.5 14.4h-17zM1815 580.9l8.5 14.4h-17zM1816.5 581l8.5 14.4h-17zM1814 585l8.5 14.4h-17zM1815.2 583.9l8.5 14.4h-17zM1813.3 585.6l8.5 14.4h-17zM1812.6 587.4l8.5 14.4h-17zM1811.5 590.2l8.5 14.4h-17zM1812.3 590.6l8.5 14.4h-17zM1810 590.8l8.5 14.4h-17zM1809.9 594.5l8.5 14.4h-17zM1806.3 594.2l8.5 14.4h-17zM1806.8 594.8l8.5 14.4h-17zM1802.8 595.2l8.5 14.4h-17zM1802.1 594.6l8.5 14.4h-17zM1802.2 597.2l8.5 14.4h-17zM1801 598.5l8.5 14.4h-17zM1799.9 598.2l8.5 14.4h-17zM1798.4 600.3l8.5 14.4h-17zM1802.9 601.4l8.5 14.4h-17zM1803.3 599l8.5 14.4h-17zM1803.1 600.2l8.5 14.4h-17zM1806.2 602.8l8.5 14.4h-17zM1805.8 605.2l8.5 14.4h-17zM1810.4 605.7l8.5 14.4h-17zM1809.8 603.9l8.5 14.4h-17zM1810.2 606.8l8.5 14.4h-17zM1813.6 605.3l8.5 14.4h-17zM1815.9 607.2l8.5 14.4h-17zM1814.1 607.5l8.5 14.4h-17zM1814.1 608.8l8.5 14.4h-17zM1812.7 608.5l8.5 14.4h-17zM1811.7 610.2l8.5 14.4h-17zM1811.3 611.1l8.5 14.4h-17zM1807.9 613.5l8.5 14.4h-17zM1806.8 614.3l8.5 14.4h-17zM1807.5 613.7l8.5 14.4h-17zM1805.4 616.4l8.5 14.4h-17zM1804 616.1l8.5 14.4h-17zM1801.3 616.5l8.5 14.4h-17zM1799.9 616.8l8.5 14.4h-17zM1797.3 618.4l8.5 14.4h-17zM1795.9 619.1l8.5 14.4h-17zM1796 619.2l8.5 14.4h-17zM1793 621.2l8.5 14.4h-17zM1794.4 620.5l8.5 14.4h-17zM1792.1 623.1l8.5 14.4h-17zM1791.8 624.1l8.5 14.4h-17zM1788.1 623l8.5 14.4h-17zM1788.8 624.2l8.5 14.4h-17zM1785.8 627.6l8.5 14.4h-17zM1787.6 626.5l8.5 14.4h-17zM1789.2 627.5l8.5 14.4h-17zM1791.9 629l8.5 14.4h-17zM1791.8 630.5l8.5 14.4h-17zM1794.5 630l8.5 14.4h-17zM1794.9 631.3l8.5 14.4h-17zM1794.6 634l8.5 14.4h-17zM1796.9 632.6l8.5 14.4h-17zM1799.1 636.9l8.5 14.4h-17zM1800.7 636l8.5 14.4h-17zM1802.7 638.5l8.5 14.4h-17zM1801.5 636.8l8.5 14.4h-17zM1806 640.3l8.5 14.4h-17zM1803.6 640.9l8.5 14.4h-17zM1806.9 641.9l8.5 14.4h-17zM1806.7 643.1l8.5 14.4h-17zM1803.8 643.1l8.5 14.4h-17zM1802 646.1l8.5 14.4h-17zM1801.3 647.2l8.5 14.4h-17zM1801.3 647.7l8.5 14.4h-17zM1802.7 648.8l8.5 14.4h-17zM1799.9 650.1l8.5 14.4h-17zM1798.1 650.9l8.5 14.4h-17zM1798.6 654.7l8.5 14.4h-17zM1796 656.6l8.5 14.4h-17zM1797.7 654.5l8.5 14.4h-17zM1797.3 657.4l8.5 14.4h-17zM1796 657.7l8.5 14.4h-17zM1795.4 660.9l8.5 14.4h-17zM1795.9 662.7l8.5 14.4h-17zM1795 664.8l8.5 14.4h-17zM1792.5 663.4l8.5 14.4h-17zM1793 665.4l8.5 14.4h-17zM1791.2 667.7l8.5 14.4h-17zM1792.3 670.4l8.5 14.4h-17zM1792.3 673.2l8.5 14.4h-17zM1789.7 673.3l8.5 14.4h-17zM1789.2 675.2l8.5 14.4h-17zM1790.1 674.7l8.5 14.4h-17zM1789.2 678.3l8.5 14.4h-17zM1789.4 681l8.5 14.4h-17zM1789.3 678.9l8.5 14.4h-17zM1789.2 681l8.5 14.4h-17zM1786.9 683l8.5 14.4h-17zM1786.3 684.9l8.5 14.4h-17zM1785.8 686.3l8.5 14.4h-17zM1785.2 687.5l8.5 14.4h-17zM1784.3 688.4l8.5 14.4h-17zM1782.3 691.4l8.5 14.4h-17zM1780.8 692.8l8.5 14.4h-17zM1781.4 694.5l8.5 14.4h-17zM1780.3 695.1l8.5 14.4h-17zM1778.8 697.6l8.5 14.4h-17zM1777.7 699l8.5 14.4h-17zM1777.3 700.2l8.5 14.4h-17zM1775.1 702.6l8.5 14.4h-17zM1775.6 704.6l8.5 14.4h-17zM1774.6 705.5l8.5 14.4h-17zM1774.6 706.8l8.5 14.4h-17zM1773.2 709.7l8.5 14.4h-17zM1773.9 710.8l8.5 14.4h-17zM1773.6 712.1l8.5 14.4h-17zM1772.8 713.7l8.5 14.4h-17zM1771.9 715.7l8.5 14.4h-17zM1771.2 717.7l8.5 14.4h-17zM1771.7 719.3l8.5 14.4h-17zM1771.5 720.6l8.5 14.4h-17zM1770.7 723.1l8.5 14.4h-17zM1769.9 725.4l8.5 14.4h-17zM1768.9 726.3l8.5 14.4h-17zM1768.9 727.9l8.5 14.4h-17zM1769.2 730l8.5 14.4h-17zM1767.9 731.4l8.5 14.4h-17zM1767.2 734l8.5 14.4h-17zM1766.9 735.2l8.5 14.4h-17zM1764.3 736.7l8.5 14.4h-17zM1762.7 737.9l8.5 14.4h-17zM1761 740.1l8.5 14.4h-17zM1761 741.6l8.5 14.4h-17zM1758.8 742.5l8.5 14.4h-17zM1757.1 744.5l8.5 14.4h-17zM1755.5 745.8l8.5 14.4h-17zM1753.7 748.2l8.5 14.4h-17zM1753.7 749.9l8.5 14.4h-17zM1752.2 750.3l8.5 14.4h-17zM1750.7 753.3l8.5 14.4h-17zM1750.8 754.5l8.5 14.4h-17zM1749.1 756.3l8.5 14.4h-17zM1747.6 758l8.5 14.4h-17zM1746.8 759.9l8.5 14.4h-17zM1746 761.3l8.5 14.4h-17zM1745.2 762.7l8.5 14.4h-17zM1744.2 765.1l8.5 14.4h-17zM1743.9 765.9l8.5 14.4h-17zM1742.6 768.3l8.5 14.4h-17zM1742.2 769.6l8.5 14.4h-17zM1741.7 770.4l8.5 14.4h-17zM1740.3 772.9l8.5 14.4h-17zM1739.2 775.1l8.5 14.4h-17zM1739.2 775.9l8.5 14.4h-17zM1738.2 778.2l8.5 14.4h-17zM1737.9 779.3l8.5 14.4h-17zM1737.7 781l8.5 14.4h-17zM1736.2 783.2l8.5 14.4h-17zM1736.5 784.5l8.5 14.4h-17zM1735.9 787.1l8.5 14.4h-17zM1735.9 787.9l8.5 14.4h-17zM1735.7 789.9l8.5 14.4h-17zM1734.4 791.7l8.5 14.4h-17zM1734.6 793.9l8.5 14.4h-17zM1734 795.2l8.5 14.4h-17zM1733.2 795.9l8.5 14.4h-17zM1732.8 797.8l8.5 14.4h-17zM1733.2 799.9l8.5 14.4h-17zM1732.2 802.2l8.5 14.4h-17zM1731.1 804.1l8.5 14.4h-17zM1730.4 804.5l8.5 14.4h-17zM1729.9 806.7l8.5 14.4h-17zM1729.4 808.4l8.5 14.4h-17zM1727.1 809.4l8.5 14.4h-17zM1726 811.8l8.5 14.4h-17zM1726.1 812.8l8.5 14.4h-17zM1724.5 815.1l8.5 14.4h-17zM1724.4 817.6l8.5 14.4h-17zM1723.3 818.7l8.5 14.4h-17zM1721.8 819.7l8.5 14.4h-17zM1720.7 821.2l8.5 14.4h-17zM1719.2 823.9l8.5 14.4h-17zM1718.5 825.4l8.5 14.4h-17zM1717.2 826.4l8.5 14.4h-17zM1716.2 828.5l8.5 14.4h-17zM1714.7 830.6l8.5 14.4h-17zM1714.9 831.2l8.5 14.4h-17zM1713.6 833.9l8.5 14.4h-17zM1714.2 834.7l8.5 14.4h-17zM1713.8 836.5l8.5 14.4h-17zM1714.1 838.8l8.5 14.4h-17zM1713.3 839.8l8.5 14.4h-17zM1713 842.1l8.5 14.4h-17zM1712.7 843.3l8.5 14.4h-17zM1712.3 845.9l8.5 14.4h-17zM1713.5 847.9l8.5 14.4h-17zM1713 849.6l8.5 14.4h-17zM1712.2 850.4l8.5 14.4h-17zM1713.1 851.8l8.5 14.4h-17zM1712.1 854.8l8.5 14.4h-17zM1712.3 855.6l8.5 14.4h-17zM1712.6 858.4l8.5 14.4h-17zM1712 860.3l8.5 14.4h-17zM1712.5 861.5l8.5 14.4h-17zM1712.8 862.6l8.5 14.4h-17zM1713.5 864.4l8.5 14.4h-17zM1713.3 867.3l8.5 14.4h-17zM1712.7 869.2l8.5 14.4h-17zM1712.1 869.7l8.5 14.4h-17zM1712.8 871.3l8.5 14.4h-17zM1713.3 873.8l8.5 14.4h-17zM1713.3 875.2l8.5 14.4h-17zM1712 877.9l8.5 14.4h-17zM1712.3 878.9l8.5 14.4h-17zM1712.2 880.9l8.5 14.4h-17zM1712.7 882l8.5 14.4h-17zM1712.1 884l8.5 14.4h-17zM1713.3 885.5l8.5 14.4h-17zM1712.4 888l8.5 14.4h-17z" fill="#ff00ff" fill-rule="nonzero"/>
<path d="M303.4 1558.5H2113.6M304.5 1558.5v-19.2M530.5 1558.5v-19.2M756.5 1558.5v-19.2M982.5 1558.5v-19.2M1208.5 1558.5v-19.2M1434.5 1558.5v-19.2M1660.5 1558.5v-19.2M1886.5 1558.5v-19.2M2112.5 1558.5v-19.2" stroke="#0000ff" stroke-width="2.1" fill="none"/>
<path d="M2112.5 128.4V1559.5M2112.5 129.5h-19.2M2112.5 272.5h-19.2M2112.5 415.5h-19.2M2112.5 557.5h-19.2M2112.5 700.5h-19.2M2112.5 843.5h-19.2M2112.5 986.5h-19.2M2112.5 1129.5h-19.2M2112.5 1272.5h-19.2M2112.5 1415.5h-19.2M2112.5 1558.5h-19.2" stroke="#262626" stroke-width="2.1" fill="none"/>
<path d="M868.8 146.4l-8.5 -14.4h17zM868.8 137.9l0.9 -1.7h-1.9zM899.6 150l-8.5 -14.4h17zM899.6 141.5l0.9 -1.7h-1.9zM914.9 154.6l-8.5 -14.4h17zM914.9 146.1l0.9 -1.7h-1.9zM938.4 156.4l-8.5 -14.4h17zM938.4 147.9l0.9 -1.7h-1.9zM963.8 158.2l-8.5 -14.4h17zM963.8 149.7l0.9 -1.7h-1.9zM990.9 160.9l-8.5 -14.4h17zM990.9 152.4l0.9 -1.7h-1.9zM1016.2 162.2l-8.5 -14.4h17zM1016.2 153.7l0.9 -1.7h-1.9zM1084.9 162.7l-8.5 -14.4h17zM1084.9 154.2l0.9 -1.7h-1.9zM1165.4 165.4l-8.5 -14.4h17zM1165.4 156.9l0.9 -1.7h-1.9zM1193.4 166.9l-8.5 -14.4h17zM1193.4 158.4l0.9 -1.7h-1.9zM1234.9 169.4l-8.5 -14.4h17zM1234.9 160.9l0.9 -1.7h-1.9zM1268.7 170.5l-8.5 -14.4h17zM1268.7 162l0.9 -1.7h-1.9zM1288.1 172.6l-8.5 -14.4h17zM1288.1 164.1l0.9 -1.7h-1.9zM1310.3 173.5l-8.5 -14.4h17zM1310.3 165l0.9 -1.7h-1.9zM1331.5 175l-8.5 -14.4h17zM1331.5 166.5l0.9 -1.7h-1.9zM1359.1 176.3l-8.5 -14.4h17zM1359.1 167.8l0.9 -1.7h-1.9zM1370.9 178.1l-8.5 -14.4h17zM1370.9 169.6l0.9 -1.7h-1.9zM1382.6 179l-8.5 -14.4h17zM1382.6 170.5l0.9 -1.7h-1.9zM1393.5 179.9l-8.5 -14.4h17zM1393.5 171.4l0.9 -1.7h-1.9zM1406.1 180.8l-8.5 -14.4h17zM1406.1 172.3l0.9 -1.7h-1.9zM1411.6 181.8l-8.5 -14.4h17zM1414.1 183.4l-8.5 -14.4h17zM1416.8 184.1l-8.5 -14.4h17zM1418.2 186.9l-8.5 -14.4h17zM1420.9 187.4l-8.5 -14.4h17zM1430.5 188.7l-8.5 -14.4h17zM1439.4 189.6l-8.5 -14.4h17zM1444.5 190.3l-8.5 -14.4h17zM1449.1 192.8l-8.5 -14.4h17zM1453.6 193.9l-8.5 -14.4h17zM1458.3 194.1l-8.5 -14.4h17zM1462.7 196.3l-8.5 -14.4h17zM1463.9 197l-8.5 -14.4h17zM1466.8 199.3l-8.5 -14.4h17zM1468.6 201.5l-8.5 -14.4h17zM1470.5 203.1l-8.5 -14.4h17zM1471.9 204.5l-8.5 -14.4h17zM1473.8 206.3l-8.5 -14.4h17zM1476.4 206.6l-8.5 -14.4h17zM1477.2 208.3l-8.5 -14.4h17zM1480.4 210.3l-8.5 -14.4h17zM1481.8 211.6l-8.5 -14.4h17zM1483.7 213.3l-8.5 -14.4h17zM1485.6 215.2l-8.5 -14.4h17zM1488.1 217.3l-8.5 -14.4h17zM1489.8 218.9l-8.5 -14.4h17zM1491.5 220.6l-8.5 -14.4h17zM1492.6 221l-8.5 -14.4h17zM1494.3 223.9l-8.5 -14.4h17zM1496 224.8l-8.5 -14.4h17zM1497.3 225.9l-8.5 -14.4h17zM1499.2 228.1l-8.5 -14.4h17zM1499.9 228.9l-8.5 -14.4h17zM1502.5 231.9l-8.5 -14.4h17zM1502.9 233.3l-8.5 -14.4h17zM1505 233.8l-8.5 -14.4h17zM1507.3 236.3l-8.5 -14.4h17zM1511.2 236.7l-8.5 -14.4h17zM1515.9 237.9l-8.5 -14.4h17zM1517.9 240l-8.5 -14.4h17zM1521.4 242.4l-8.5 -14.4h17zM1525.2 243.8l-8.5 -14.4h17zM1527.4 243.8l-8.5 -14.4h17zM1530.3 245.3l-8.5 -14.4h17zM1532 247.4l-8.5 -14.4h17zM1534.6 248.6l-8.5 -14.4h17zM1535.5 251.3l-8.5 -14.4h17zM1537.8 253.1l-8.5 -14.4h17zM1540.6 253.7l-8.5 -14.4h17zM1543 255.4l-8.5 -14.4h17zM1546.6 257l-8.5 -14.4h17zM1549.3 258.5l-8.5 -14.4h17zM1552.6 259.8l-8.5 -14.4h17zM1554.4 261.7l-8.5 -14.4h17zM1555.1 262.7l-8.5 -14.4h17zM1557.3 264.7l-8.5 -14.4h17zM1557.7 265.5l-8.5 -14.4h17zM1558.5 268.1l-8.5 -14.4h17zM1560.4 269.7l-8.5 -14.4h17zM1564.6 270.3l-8.5 -14.4h17zM1567.7 272.4l-8.5 -14.4h17zM1570.9 273.6l-8.5 -14.4h17zM1574.6 275.7l-8.5 -14.4h17zM1577.1 276l-8.5 -14.4h17zM1580.5 278.6l-8.5 -14.4h17zM1585.7 279.1l-8.5 -14.4h17zM1592 280.1l-8.5 -14.4h17zM1597.5 281.3l-8.5 -14.4h17zM1602.5 282.9l-8.5 -14.4h17zM1607.4 283.8l-8.5 -14.4h17zM1613.1 284.6l-8.5 -14.4h17zM1617.6 286.9l-8.5 -14.4h17zM1621.6 287.5l-8.5 -14.4h17zM1626.7 288.8l-8.5 -14.4h17zM1630.2 290.4l-8.5 -14.4h17zM1635.1 291.3l-8.5 -14.4h17zM1638.6 292.9l-8.5 -14.4h17zM1643.2 294.4l-8.5 -14.4h17zM1647.2 295.4l-8.5 -14.4h17zM1650.4 297.4l-8.5 -14.4h17zM1654.4 298.6l-8.5 -14.4h17zM1656.4 299.6l-8.5 -14.4h17zM1659.7 301.2l-8.5 -14.4h17zM1663 303.5l-8.5 -14.4h17zM1665 304.2l-8.5 -14.4h17zM1668.8 306.2l-8.5 -14.4h17zM1671.6 307.2l-8.5 -14.4h17zM1673.5 308.6l-8.5 -14.4h17zM1677.2 310.1l-8.5 -14.4h17zM1679.4 311.7l-8.5 -14.4h17zM1682.3 313.2l-8.5 -14.4h17zM1685.8 314.3l-8.5 -14.4h17zM1687.3 316.9l-8.5 -14.4h17zM1691.5 318.4l-8.5 -14.4h17zM1693.8 319.8l-8.5 -14.4h17zM1697.4 320.3l-8.5 -14.4h17zM1700.1 322.6l-8.5 -14.4h17zM1702.9 323.6l-8.5 -14.4h17zM1705.3 324.8l-8.5 -14.4h17zM1708.5 325.8l-8.5 -14.4h17zM1712.5 327.5l-8.5 -14.4h17zM1716.2 328.6l-8.5 -14.4h17zM1719.7 330.9l-8.5 -14.4h17zM1723.1 332.6l-8.5 -14.4h17zM1726.2 333.6l-8.5 -14.4h17zM1727.9 335.3l-8.5 -14.4h17zM1731 336.2l-8.5 -14.4h17zM1734.6 337.9l-8.5 -14.4h17zM1737.2 340l-8.5 -14.4h17zM1740.4 340.6l-8.5 -14.4h17zM1742.9 342.8l-8.5 -14.4h17zM1746.5 344.1l-8.5 -14.4h17zM1749.5 344.7l-8.5 -14.4h17zM1753 347l-8.5 -14.4h17zM1755.7 348.4l-8.5 -14.4h17zM1760 349.8l-8.5 -14.4h17zM1762.9 350.2l-8.5 -14.4h17zM1765.5 352.8l-8.5 -14.4h17zM1767.6 353.5l-8.5 -14.4h17zM1770.9 355.3l-8.5 -14.4h17zM1774 356.7l-8.5 -14.4h17zM1777.4 357.5l-8.5 -14.4h17zM1778.8 359.1l-8.5 -14.4h17zM1781 360.6l-8.5 -14.4h17zM1784.2 363.2l-8.5 -14.4h17zM1785.1 364.3l-8.5 -14.4h17zM1787.4 365.6l-8.5 -14.4h17zM1789.6 367.6l-8.5 -14.4h17zM1792 368.7l-8.5 -14.4h17zM1793.5 370.2l-8.5 -14.4h17zM1795.4 372.1l-8.5 -14.4h17zM1798.2 373.4l-8.5 -14.4h17zM1799.3 374.7l-8.5 -14.4h17zM1801.6 376.8l-8.5 -14.4h17zM1804.1 378.1l-8.5 -14.4h17zM1806.1 380l-8.5 -14.4h17zM1807.5 381.2l-8.5 -14.4h17zM1809.6 383.2l-8.5 -14.4h17zM1811.4 384.7l-8.5 -14.4h17zM1813.4 385.7l-8.5 -14.4h17zM1815.3 387.9l-8.5 -14.4h17zM1816.5 389.1l-8.5 -14.4h17zM1818.8 391.3l-8.5 -14.4h17zM1821.3 392.1l-8.5 -14.4h17zM1823 394.3l-8.5 -14.4h17zM1823.9 395.4l-8.5 -14.4h17zM1825.5 397.5l-8.5 -14.4h17zM1828 399.2l-8.5 -14.4h17zM1830 400.4l-8.5 -14.4h17zM1831.7 401.8l-8.5 -14.4h17zM1832.6 403.4l-8.5 -14.4h17zM1834.4 404.4l-8.5 -14.4h17zM1837.4 405.8l-8.5 -14.4h17zM1838.3 407.4l-8.5 -14.4h17zM1840.9 409.2l-8.5 -14.4h17zM1841.2 411.7l-8.5 -14.4h17zM1842.7 413.3l-8.5 -14.4h17zM1845 414.9l-8.5 -14.4h17zM1846.8 416.1l-8.5 -14.4h17zM1848 417l-8.5 -14.4h17zM1849.5 419.3l-8.5 -14.4h17zM1850.8 420.3l-8.5 -14.4h17zM1852.3 423.1l-8.5 -14.4h17zM1852.8 423.8l-8.5 -14.4h17zM1855.1 426.1l-8.5 -14.4h17zM1856.3 426.8l-8.5 -14.4h17zM1857.9 429l-8.5 -14.4h17zM1860.2 430.3l-8.5 -14.4h17zM1861.3 431.9l-8.5 -14.4h17zM1862.9 433.5l-8.5 -14.4h17zM1864.1 435.2l-8.5 -14.4h17zM1867 436.7l-8.5 -14.4h17zM1868.3 437.9l-8.5 -14.4h17zM1869.8 440.3l-8.5 -14.4h17zM1871.4 441.6l-8.5 -14.4h17zM1872.8 443.3l-8.5 -14.4h17zM1875.1 444.2l-8.5 -14.4h17zM1875.6 446.7l-8.5 -14.4h17zM1878.4 447.9l-8.5 -14.4h17zM1879.5 449.8l-8.5 -14.4h17zM1880.8 450.7l-8.5 -14.4h17zM1882.4 452.8l-8.5 -14.4h17zM1884.3 453.9l-8.5 -14.4h17zM1886.5 456.5l-8.5 -14.4h17zM1887.6 457.7l-8.5 -14.4h17zM1888.9 459.5l-8.5 -14.4h17zM1890.2 460.4l-8.5 -14.4h17zM1890.6 461.7l-8.5 -14.4h17zM1892 463.8l-8.5 -14.4h17zM1892.6 465.4l-8.5 -14.4h17zM1893.8 467.7l-8.5 -14.4h17zM1894.6 469.6l-8.5 -14.4h17zM1896 470.7l-8.5 -14.4h17zM1897 472.7l-8.5 -14.4h17zM1898.5 474l-8.5 -14.4h17zM1899 475.9l-8.5 -14.4h17zM1900.6 477.1l-8.5 -14.4h17zM1901.4 479.5l-8.5 -14.4h17zM1902.1 480.1l-8.5 -14.4h17zM1902.7 482.4l-8.5 -14.4h17zM1904.4 484.4l-8.5 -14.4h17zM1905.6 485.1l-8.5 -14.4h17zM1905.7 486.8l-8.5 -14.4h17zM1906.7 489l-8.5 -14.4h17zM1908.7 491l-8.5 -14.4h17zM1908.8 492.6l-8.5 -14.4h17zM1909.7 493.6l-8.5 -14.4h17zM1911 494.8l-8.5 -14.4h17zM1910.9 497.5l-8.5 -14.4h17zM1912 498.5l-8.5 -14.4h17zM1913.2 500.7l-8.5 -14.4h17zM1913.2 501.9l-8.5 -14.4h17zM1914.6 503.7l-8.5 -14.4h17zM1915.1 505.5l-8.5 -14.4h17zM1916.9 506.9l-8.5 -14.4h17zM1917.2 508.2l-8.5 -14.4h17zM1917.7 510.7l-8.5 -14.4h17zM1918.3 512.6l-8.5 -14.4h17zM1920.4 513.2l-8.5 -14.4h17zM1921.3 515.2l-8.5 -14.4h17zM1922 517.4l-8.5 -14.4h17zM1922.2 519l-8.5 -14.4h17zM1923.6 520.8l-8.5 -14.4h17zM1923.9 522.4l-8.5 -14.4h17zM1925.8 524l-8.5 -14.4h17zM1926.1 524.8l-8.5 -14.4h17zM1926.6 526.9l-8.5 -14.4h17zM1927.5 529l-8.5 -14.4h17zM1927.9 530l-8.5 -14.4h17zM1928.6 532.3l-8.5 -14.4h17zM1928.5 534.4l-8.5 -14.4h17zM1929.8 535l-8.5 -14.4h17zM1930.8 536.7l-8.5 -14.4h17zM1930.5 539.2l-8.5 -14.4h17zM1931.5 540.7l-8.5 -14.4h17zM1932.1 542.3l-8.5 -14.4h17zM1932.2 543.6l-8.5 -14.4h17zM1932.3 546l-8.5 -14.4h17zM1933.8 547.5l-8.5 -14.4h17zM1934.3 548.9l-8.5 -14.4h17zM1934.1 550.7l-8.5 -14.4h17zM1935.4 551.9l-8.5 -14.4h17zM1935.4 553.9l-8.5 -14.4h17zM1936.3 555.7l-8.5 -14.4h17zM1936.2 557.5l-8.5 -14.4h17zM1937 559.7l-8.5 -14.4h17zM1937.4 561.5l-8.5 -14.4h17zM1937.7 562.4l-8.5 -14.4h17zM1938.4 563.8l-8.5 -14.4h17zM1940 566.4l-8.5 -14.4h17zM1939.8 567.3l-8.5 -14.4h17zM1940.8 569.8l-8.5 -14.4h17zM1942 571.5l-8.5 -14.4h17zM1942.4 572.3l-8.5 -14.4h17zM1942.8 574.1l-8.5 -14.4h17zM1943.6 576.3l-8.5 -14.4h17zM1943.7 577.5l-8.5 -14.4h17zM1945.1 578.9l-8.5 -14.4h17zM1945.7 581.8l-8.5 -14.4h17zM1946.5 582.8l-8.5 -14.4h17zM1946.6 584.8l-8.5 -14.4h17zM1947.3 587l-8.5 -14.4h17zM1947.9 587.7l-8.5 -14.4h17zM1948.8 589.7l-8.5 -14.4h17zM1949 591.7l-8.5 -14.4h17zM1948.7 593.5l-8.5 -14.4h17zM1950.3 594.8l-8.5 -14.4h17zM1950.7 596.4l-8.5 -14.4h17zM1950.8 598.2l-8.5 -14.4h17zM1951.2 599.9l-8.5 -14.4h17zM1952.7 601.5l-8.5 -14.4h17zM1953.2 603.9l-8.5 -14.4h17zM1954.2 604.4l-8.5 -14.4h17zM1954.7 606.8l-8.5 -14.4h17zM1954.3 608.1l-8.5 -14.4h17zM1955.1 609.4l-8.5 -14.4h17zM1955.8 612.3l-8.5 -14.4h17zM1955.8 614l-8.5 -14.4h17zM1956.6 614.7l-8.5 -14.4h17zM1957.1 617l-8.5 -14.4h17zM1957.5 618.9l-8.5 -14.4h17zM1957.5 620.1l-8.5 -14.4h17zM1957.8 622.7l-8.5 -14.4h17zM1958.2 623.7l-8.5 -14.4h17zM1958.3 625.5l-8.5 -14.4h17zM1957.7 626.6l-8.5 -14.4h17zM1957.8 628.6l-8.5 -14.4h17zM1958.2 630.7l-8.5 -14.4h17zM1959.2 632.5l-8.5 -14.4h17zM1959 634.4l-8.5 -14.4h17zM1959 635.8l-8.5 -14.4h17zM1959.9 637.5l-8.5 -14.4h17zM1959.3 639.9l-8.5 -14.4h17zM1960.3 640.9l-8.5 -14.4h17zM1960 642.9l-8.5 -14.4h17zM1960.5 644.2l-8.5 -14.4h17zM1959.8 645.9l-8.5 -14.4h17zM1961.1 647.5l-8.5 -14.4h17zM1960.8 649.3l-8.5 -14.4h17zM1960.6 651l-8.5 -14.4h17zM1961.1 652.8l-8.5 -14.4h17zM1960.7 654.4l-8.5 -14.4h17zM1961.1 656.7l-8.5 -14.4h17zM1961.1 657.8l-8.5 -14.4h17zM1961.8 660l-8.5 -14.4h17zM1962.3 661.3l-8.5 -14.4h17zM1962 663.5l-8.5 -14.4h17zM1961.6 666l-8.5 -14.4h17zM1962 666.5l-8.5 -14.4h17zM1962.5 668.4l-8.5 -14.4h17zM1962.9 670.4l-8.5 -14.4h17zM1962.3 671.7l-8.5 -14.4h17zM1963.3 673.7l-8.5 -14.4h17zM1963.5 675.7l-8.5 -14.4h17zM1963.8 677.3l-8.5 -14.4h17zM1963 678.9l-8.5 -14.4h17zM1963.9 681.2l-8.5 -14.4h17zM1963.3 682.2l-8.5 -14.4h17zM1963.9 685.2l-8.5 -14.4h17zM1963.9 685.5l-8.5 -14.4h17zM1963.2 687.4l-8.5 -14.4h17zM1963.5 689.1l-8.5 -14.4h17zM1963.4 691.7l-8.5 -14.4h17zM1964.7 692.8l-8.5 -14.4h17zM1964.9 694.9l-8.5 -14.4h17zM1964.8 697.3l-8.5 -14.4h17zM1965 697.8l-8.5 -14.4h17zM1964.3 700.3l-8.5 -14.4h17zM1965.3 701.3l-8.5 -14.4h17zM1964.4 704.1l-8.5 -14.4h17zM1964.3 705.2l-8.5 -14.4h17zM1964.7 707.4l-8.5 -14.4h17zM1965.7 708.4l-8.5 -14.4h17zM1965.6 710.9l-8.5 -14.4h17zM1965.9 712.4l-8.5 -14.4h17zM1966.2 713.9l-8.5 -14.4h17zM1965.6 715.4l-8.5 -14.4h17zM1966.3 717.5l-8.5 -14.4h17zM1965.7 718.8l-8.5 -14.4h17zM1966.5 721.2l-8.5 -14.4h17zM1966.7 722.6l-8.5 -14.4h17zM1966.5 724l-8.5 -14.4h17zM1967 725.6l-8.5 -14.4h17zM1966.8 728.3l-8.5 -14.4h17zM1967.3 729.1l-8.5 -14.4h17zM1966.8 731.9l-8.5 -14.4h17zM1967.6 733.7l-8.5 -14.4h17zM1968.1 734.8l-8.5 -14.4h17zM1968.2 737l-8.5 -14.4h17zM1967.6 738.2l-8.5 -14.4h17zM1967.4 740l-8.5 -14.4h17zM1968.8 741.3l-8.5 -14.4h17zM1968.4 743l-8.5 -14.4h17zM1967.9 745.5l-8.5 -14.4h17zM1968.3 746.4l-8.5 -14.4h17zM1968.4 749l-8.5 -14.4h17zM1969.1 749.8l-8.5 -14.4h17zM1968.8 752.9l-8.5 -14.4h17zM1968.9 754.1l-8.5 -14.4h17zM1969.3 756.1l-8.5 -14.4h17zM1969.7 757.9l-8.5 -14.4h17zM1969.8 758.8l-8.5 -14.4h17zM1969.4 760.3l-8.5 -14.4h17zM1970.5 762.1l-8.5 -14.4h17zM1969.5 765.1l-8.5 -14.4h17zM1969.9 766.7l-8.5 -14.4h17zM1969.9 767.8l-8.5 -14.4h17zM1970.2 770.1l-8.5 -14.4h17zM1970.9 771.6l-8.5 -14.4h17zM1971.2 773.6l-8.5 -14.4h17zM1970.8 775l-8.5 -14.4h17zM1971.1 776l-8.5 -14.4h17zM1971.8 778.4l-8.5 -14.4h17zM1971.9 779.6l-8.5 -14.4h17zM1971.6 781.7l-8.5 -14.4h17zM1972.1 782.9l-8.5 -14.4h17zM1971.7 785.2l-8.5 -14.4h17zM1971.4 787.1l-8.5 -14.4h17zM1972.5 788.6l-8.5 -14.4h17zM1972.5 790.6l-8.5 -14.4h17zM1972 792l-8.5 -14.4h17zM1973.3 793.7l-8.5 -14.4h17zM1972.6 795.1l-8.5 -14.4h17zM1972.5 796.9l-8.5 -14.4h17zM1973.6 799.5l-8.5 -14.4h17zM1973.7 801.6l-8.5 -14.4h17zM1973.4 803.2l-8.5 -14.4h17zM1973.4 804.3l-8.5 -14.4h17zM1974.1 806.7l-8.5 -14.4h17zM1974.2 807.8l-8.5 -14.4h17zM1974 809.5l-8.5 -14.4h17zM1974.4 811.9l-8.5 -14.4h17zM1973.5 813.7l-8.5 -14.4h17zM1973.5 814.3l-8.5 -14.4h17zM1974.3 816.3l-8.5 -14.4h17zM1974.1 818.5l-8.5 -14.4h17zM1973.5 820.4l-8.5 -14.4h17zM1974 821.7l-8.5 -14.4h17zM1974.2 823.9l-8.5 -14.4h17zM1974.8 825l-8.5 -14.4h17zM1974 826.7l-8.5 -14.4h17zM1974.5 828.2l-8.5 -14.4h17zM1974.2 830.9l-8.5 -14.4h17zM1975.1 832.9l-8.5 -14.4h17zM1975.6 834.5l-8.5 -14.4h17zM1974.8 835.3l-8.5 -14.4h17zM1974.8 837.4l-8.5 -14.4h17zM1975.2 839.3l-8.5 -14.4h17zM1975.1 841.4l-8.5 -14.4h17zM1975 842.6l-8.5 -14.4h17zM1976 844.9l-8.5 -14.4h17zM1975.2 845.8l-8.5 -14.4h17zM1976 847.2l-8.5 -14.4h17zM1975.2 849.7l-8.5 -14.4h17zM1975.8 850.9l-8.5 -14.4h17zM1975.2 852.7l-8.5 -14.4h17zM1976.3 854.8l-8.5 -14.4h17zM1976.7 857l-8.5 -14.4h17zM1976.8 857.7l-8.5 -14.4h17zM1975.7 859.4l-8.5 -14.4h17zM1976.2 861.6l-8.5 -14.4h17zM1975.7 863.7l-8.5 -14.4h17zM1975.9 865.1l-8.5 -14.4h17zM1976.2 867.5l-8.5 -14.4h17zM1976.5 868.5l-8.5 -14.4h17zM1976 870.5l-8.5 -14.4h17zM1976.9 872.6l-8.5 -14.4h17zM1977.4 874.5l-8.5 -14.4h17zM1976.6 875.3l-8.5 -14.4h17zM1977.4 878l-8.5 -14.4h17zM1977.1 879.8l-8.5 -14.4h17zM1977.2 880.7l-8.5 -14.4h17zM1976.8 882.1l-8.5 -14.4h17zM1977.5 885.1l-8.5 -14.4h17zM1977.9 886.2l-8.5 -14.4h17zM1977.7 888.6l-8.5 -14.4h17zM1978 889.9l-8.5 -14.4h17zM1977.5 891.5l-8.5 -14.4h17zM1977.2 892.8l-8.5 -14.4h17zM1978 895.7l-8.5 -14.4h17zM1977.9 896.6l-8.5 -14.4h17zM1977.7 898.4l-8.5 -14.4h17zM1978.4 900.2l-8.5 -14.4h17zM1978.7 901.5l-8.5 -14.4h17zM1977.8 903.7l-8.5 -14.4h17zM1977.9 906l-8.5 -14.4h17zM1978.5 907.8l-8.5 -14.4h17zM1978.1 908.3l-8.5 -14.4h17zM1978 910.8l-8.5 -14.4h17zM1977.9 912.1l-8.5 -14.4h17zM1978.2 914.8l-8.5 -14.4h17zM1977.3 916.2l-8.5 -14.4h17zM1977.6 917.7l-8.5 -14.4h17z" fill="#0000ff" fill-rule="nonzero"/>
<path d="M861.1 119.2l8.5 14.4h-17zM862 120.8l8.5 14.4h-17zM860.4 123.4l8.5 14.4h-17zM864.9 126.7l8.5 14.4h-17zM864.2 125l8.5 14.4h-17zM863.1 126.6l8.5 14.4h-17zM861.3 127l8.5 14.4h-17zM861.7 132.6l8.5 14.4h-17zM865.1 133.2l8.5 14.4h-17zM865.1 131.3l8.5 14.4h-17zM862.7 134.9l8.5 14.4h-17zM865 137.4l8.5 14.4h-17zM866 134.7l8.5 14.4h-17zM887.8 138l8.5 14.4h-17zM887.8 146.5l-0.9 1.7h1.9zM901.4 138l8.5 14.4h-17zM901.4 146.5l-0.9 1.7h1.9zM915.8 139.8l8.5 14.4h-17zM915.8 148.3l-0.9 1.7h1.9zM946.6 140.7l8.5 14.4h-17zM946.6 149.2l-0.9 1.7h1.9zM964.7 140.7l8.5 14.4h-17zM964.7 149.2l-0.9 1.7h1.9zM972.8 141.6l8.5 14.4h-17zM972.8 150.1l-0.9 1.7h1.9zM1002.6 142.5l8.5 14.4h-17zM1002.6 151l-0.9 1.7h1.9zM1029.8 145.2l8.5 14.4h-17zM1029.8 153.7l-0.9 1.7h1.9zM1047 146.1l8.5 14.4h-17zM1047 154.6l-0.9 1.7h1.9zM1089.4 147l8.5 14.4h-17zM1089.4 155.5l-0.9 1.7h1.9zM1096.7 148.5l8.5 14.4h-17zM1096.7 157l-0.9 1.7h1.9zM1105.7 149.2l8.5 14.4h-17zM1105.7 157.7l-0.9 1.7h1.9zM1123.8 150.3l8.5 14.4h-17zM1123.8 158.8l-0.9 1.7h1.9zM1153.6 151l8.5 14.4h-17zM1153.6 159.5l-0.9 1.7h1.9zM1166.3 151.5l8.5 14.4h-17zM1166.3 160l-0.9 1.7h1.9zM1171.7 153.3l8.5 14.4h-17zM1171.7 161.8l-0.9 1.7h1.9zM1177.1 155.1l8.5 14.4h-17zM1177.1 163.6l-0.9 1.7h1.9zM1185.3 156l8.5 14.4h-17zM1185.3 164.5l-0.9 1.7h1.9zM1204 157l8.5 14.4h-17zM1204 165.5l-0.9 1.7h1.9zM1263.3 158.8l8.5 14.4h-17zM1263.3 167.3l-0.9 1.7h1.9zM1293.1 159.7l8.5 14.4h-17zM1293.1 168.2l-0.9 1.7h1.9zM1304 159.7l8.5 14.4h-17zM1304 168.2l-0.9 1.7h1.9zM1312.1 160.6l8.5 14.4h-17zM1312.1 169.1l-0.9 1.7h1.9zM1335.6 161.5l8.5 14.4h-17zM1335.6 170l-0.9 1.7h1.9zM1355.5 162.4l8.5 14.4h-17zM1355.5 170.9l-0.9 1.7h1.9zM1378.1 163.3l8.5 14.4h-17zM1378.1 171.8l-0.9 1.7h1.9zM1386 164.2l8.5 14.4h-17zM1386 172.7l-0.9 1.7h1.9zM1398.9 165.1l8.5 14.4h-17zM1398.9 173.6l-0.9 1.7h1.9zM1406 166.8l8.5 14.4h-17zM1406 175.3l-0.9 1.7h1.9zM1410.2 168.1l8.5 14.4h-17zM1414.8 168.6l8.5 14.4h-17zM1419.1 169.8l8.5 14.4h-17zM1423.1 172.5l8.5 14.4h-17zM1425.7 173l8.5 14.4h-17zM1429.6 174.9l8.5 14.4h-17zM1432.8 176.8l8.5 14.4h-17zM1436.7 177.4l8.5 14.4h-17zM1443.7 178.5l8.5 14.4h-17zM1449.1 179.5l8.5 14.4h-17zM1453.7 180.5l8.5 14.4h-17zM1456 182.9l8.5 14.4h-17zM1459.9 184.1l8.5 14.4h-17zM1463.7 185.3l8.5 14.4h-17zM1467.7 186.5l8.5 14.4h-17zM1469.8 188l8.5 14.4h-17zM1473.3 189.5l8.5 14.4h-17zM1476 191.8l8.5 14.4h-17zM1478 193l8.5 14.4h-17zM1480.8 193.9l8.5 14.4h-17zM1481.3 195.7l8.5 14.4h-17zM1484.3 197.9l8.5 14.4h-17zM1485.3 199l8.5 14.4h-17zM1487 200.8l8.5 14.4h-17zM1488.6 202.8l8.5 14.4h-17zM1492.2 204.8l8.5 14.4h-17zM1494.5 206.3l8.5 14.4h-17zM1496 206.7l8.5 14.4h-17zM1500.2 209l8.5 14.4h-17zM1501.9 210.8l8.5 14.4h-17zM1507.9 211.8l8.5 14.4h-17zM1513.6 212l8.5 14.4h-17zM1516.7 213.4l8.5 14.4h-17zM1518.2 216.3l8.5 14.4h-17zM1519.3 216.4l8.5 14.4h-17zM1520.1 218.3l8.5 14.4h-17zM1522.5 220.3l8.5 14.4h-17zM1522.9 221.5l8.5 14.4h-17zM1525.2 223.7l8.5 14.4h-17zM1525.1 224.8l8.5 14.4h-17zM1526.2 226.6l8.5 14.4h-17zM1529.4 228.1l8.5 14.4h-17zM1530.6 230.2l8.5 14.4h-17zM1533.1 232.6l8.5 14.4h-17zM1535.1 233.4l8.5 14.4h-17zM1537.5 234.9l8.5 14.4h-17zM1539.3 236.6l8.5 14.4h-17zM1539.5 238.1l8.5 14.4h-17zM1540.6 239.8l8.5 14.4h-17zM1542.3 242.2l8.5 14.4h-17zM1544.7 243.2l8.5 14.4h-17zM1544.8 244.4l8.5 14.4h-17zM1546.6 246l8.5 14.4h-17zM1548.2 248.6l8.5 14.4h-17zM1549.7 249l8.5 14.4h-17zM1552.5 251.4l8.5 14.4h-17zM1554.2 252.8l8.5 14.4h-17zM1555.7 254.8l8.5 14.4h-17zM1559.1 256.3l8.5 14.4h-17zM1563 256.6l8.5 14.4h-17zM1566.9 259.2l8.5 14.4h-17zM1572.5 260.6l8.5 14.4h-17zM1576.1 261.5l8.5 14.4h-17zM1581.3 262.8l8.5 14.4h-17zM1581.2 262.6l8.5 14.4h-17zM1586.8 264l8.5 14.4h-17zM1592.1 265.5l8.5 14.4h-17zM1598.8 265.5l8.5 14.4h-17zM1603.9 268l8.5 14.4h-17zM1608.5 268l8.5 14.4h-17zM1613.8 269.3l8.5 14.4h-17zM1618.7 271.4l8.5 14.4h-17zM1621.8 272l8.5 14.4h-17zM1626.9 273.9l8.5 14.4h-17zM1631.5 275.7l8.5 14.4h-17zM1635 275.7l8.5 14.4h-17zM1639.9 277.1l8.5 14.4h-17zM1643.8 278.6l8.5 14.4h-17zM1647.7 280.9l8.5 14.4h-17zM1651.7 281.9l8.5 14.4h-17zM1654.9 282.8l8.5 14.4h-17zM1657.6 284.5l8.5 14.4h-17zM1660.8 286.6l8.5 14.4h-17zM1663.1 287.7l8.5 14.4h-17zM1665.4 288.5l8.5 14.4h-17zM1669.1 290.6l8.5 14.4h-17zM1672.3 292.2l8.5 14.4h-17zM1674.1 293.3l8.5 14.4h-17zM1677.8 295l8.5 14.4h-17zM1679.5 296.9l8.5 14.4h-17zM1683.5 297.3l8.5 14.4h-17zM1685.9 299.2l8.5 14.4h-17zM1689 300.6l8.5 14.4h-17zM1691.2 302.3l8.5 14.4h-17zM1695.1 303.2l8.5 14.4h-17zM1696.9 305.4l8.5 14.4h-17zM1700.9 306.7l8.5 14.4h-17zM1703.2 308.7l8.5 14.4h-17zM1706.6 309l8.5 14.4h-17zM1710.1 310.6l8.5 14.4h-17zM1712.7 312.9l8.5 14.4h-17zM1716.3 314.3l8.5 14.4h-17zM1719.3 315.8l8.5 14.4h-17zM1722.7 316.2l8.5 14.4h-17zM1726.3 317.9l8.5 14.4h-17zM1729.3 320.1l8.5 14.4h-17zM1732.4 320.3l8.5 14.4h-17zM1734.8 322.5l8.5 14.4h-17zM1738 324.2l8.5 14.4h-17zM1740.9 324.8l8.5 14.4h-17zM1743.6 327.3l8.5 14.4h-17zM1747 328.7l8.5 14.4h-17zM1751.1 329.9l8.5 14.4h-17zM1753.9 331.3l8.5 14.4h-17zM1756.6 333.1l8.5 14.4h-17zM1760.1 334.6l8.5 14.4h-17zM1762.8 336l8.5 14.4h-17zM1766.4 337.1l8.5 14.4h-17zM1768.9 337.9l8.5 14.4h-17zM1772.3 339.6l8.5 14.4h-17zM1775.1 340.8l8.5 14.4h-17zM1777.2 342.2l8.5 14.4h-17zM1780.6 343.8l8.5 14.4h-17zM1782.8 345.6l8.5 14.4h-17zM1784.4 347.1l8.5 14.4h-17zM1786.6 348.3l8.5 14.4h-17zM1788.3 351l8.5 14.4h-17zM1790.1 352.2l8.5 14.4h-17zM1792.4 353.2l8.5 14.4h-17zM1794 354.4l8.5 14.4h-17zM1797.4 357.1l8.5 14.4h-17zM1799.1 358.6l8.5 14.4h-17zM1801.3 359.2l8.5 14.4h-17zM1802.7 361.3l8.5 14.4h-17zM1804.6 363.4l8.5 14.4h-17zM1806.8 365l8.5 14.4h-17zM1807.9 366.2l8.5 14.4h-17zM1810.6 367.8l8.5 14.4h-17zM1812.5 369.5l8.5 14.4h-17zM1814 371.2l8.5 14.4h-17zM1816 372.3l8.5 14.4h-17zM1818.4 374l8.5 14.4h-17zM1819.4 374.9l8.5 14.4h-17zM1821.2 377.1l8.5 14.4h-17zM1824 379l8.5 14.4h-17zM1824.9 379.9l8.5 14.4h-17zM1827.3 381.3l8.5 14.4h-17zM1828.5 382.5l8.5 14.4h-17zM1830 384.8l8.5 14.4h-17zM1832.5 386.5l8.5 14.4h-17zM1833.9 388.5l8.5 14.4h-17zM1836.1 389l8.5 14.4h-17zM1837.2 391.7l8.5 14.4h-17zM1840.4 393.2l8.5 14.4h-17zM1841.4 393.9l8.5 14.4h-17zM1842.1 395.5l8.5 14.4h-17zM1843.6 398l8.5 14.4h-17zM1846 399.4l8.5 14.4h-17zM1846.4 400.3l8.5 14.4h-17zM1848 402.9l8.5 14.4h-17zM1849.2 404.3l8.5 14.4h-17zM1851.3 405.5l8.5 14.4h-17zM1853.1 406.7l8.5 14.4h-17zM1853.9 408.2l8.5 14.4h-17zM1854.8 409.6l8.5 14.4h-17zM1856.7 411.4l8.5 14.4h-17zM1857.9 414.2l8.5 14.4h-17zM1859.8 415.6l8.5 14.4h-17zM1862 417l8.5 14.4h-17zM1863.5 418.9l8.5 14.4h-17zM1865.4 420.2l8.5 14.4h-17zM1866.6 421.7l8.5 14.4h-17zM1868.4 423.1l8.5 14.4h-17zM1869.6 424.1l8.5 14.4h-17zM1871.7 426.2l8.5 14.4h-17zM1871.9 427.4l8.5 14.4h-17zM1874.3 429.1l8.5 14.4h-17zM1874.8 431.4l8.5 14.4h-17zM1876.7 432.5l8.5 14.4h-17zM1877.3 434.2l8.5 14.4h-17zM1878 436.5l8.5 14.4h-17zM1879.2 438.3l8.5 14.4h-17zM1880.7 438.8l8.5 14.4h-17zM1882.9 441.3l8.5 14.4h-17zM1883.2 442.6l8.5 14.4h-17zM1884.7 444.4l8.5 14.4h-17zM1885.3 446.2l8.5 14.4h-17zM1887.5 447.7l8.5 14.4h-17zM1888.4 449.7l8.5 14.4h-17zM1888.7 451.2l8.5 14.4h-17zM1890.3 452.5l8.5 14.4h-17zM1890.4 454.2l8.5 14.4h-17zM1892.5 455.4l8.5 14.4h-17zM1893.2 457.9l8.5 14.4h-17zM1894.1 458.3l8.5 14.4h-17zM1895.2 460.3l8.5 14.4h-17zM1896.5 462.5l8.5 14.4h-17zM1896.8 464.5l8.5 14.4h-17zM1898.3 465.3l8.5 14.4h-17zM1899.6 467.8l8.5 14.4h-17zM1900.7 469.4l8.5 14.4h-17zM1901.4 470.8l8.5 14.4h-17zM1902.4 472.2l8.5 14.4h-17zM1904 473.6l8.5 14.4h-17zM1903.7 475.8l8.5 14.4h-17zM1905.3 477.2l8.5 14.4h-17zM1906.5 478.4l8.5 14.4h-17zM1907.1 479.8l8.5 14.4h-17zM1909 482.6l8.5 14.4h-17zM1909.9 483.1l8.5 14.4h-17zM1911.4 485.8l8.5 14.4h-17zM1911.8 486.3l8.5 14.4h-17zM1913.4 488.8l8.5 14.4h-17zM1914.1 489.6l8.5 14.4h-17zM1915.3 491.2l8.5 14.4h-17zM1916.1 493l8.5 14.4h-17zM1916.8 495.7l8.5 14.4h-17zM1918.3 497.3l8.5 14.4h-17zM1918.6 498.4l8.5 14.4h-17zM1919.9 499.5l8.5 14.4h-17zM1920.5 502.5l8.5 14.4h-17zM1921.9 504l8.5 14.4h-17zM1922.1 505.4l8.5 14.4h-17zM1923.7 507.1l8.5 14.4h-17zM1924.1 508l8.5 14.4h-17zM1924.4 510.7l8.5 14.4h-17zM1926.4 511.5l8.5 14.4h-17zM1926.8 513.4l8.5 14.4h-17zM1927.2 515.7l8.5 14.4h-17zM1927.3 517.1l8.5 14.4h-17zM1927.8 518.6l8.5 14.4h-17zM1928.1 520l8.5 14.4h-17zM1929.1 522.6l8.5 14.4h-17zM1929.4 524l8.5 14.4h-17zM1930 526.1l8.5 14.4h-17zM1930.7 526.5l8.5 14.4h-17zM1931.4 529.4l8.5 14.4h-17zM1932.7 531l8.5 14.4h-17zM1933.2 531.6l8.5 14.4h-17zM1933.6 533.7l8.5 14.4h-17zM1935.2 535l8.5 14.4h-17zM1934.9 537.6l8.5 14.4h-17zM1935.4 539.5l8.5 14.4h-17zM1936.3 540.6l8.5 14.4h-17zM1937.5 542.8l8.5 14.4h-17zM1937.4 544.4l8.5 14.4h-17zM1938.3 545.9l8.5 14.4h-17zM1938.8 547.6l8.5 14.4h-17zM1939.7 548.5l8.5 14.4h-17zM1940.3 550.4l8.5 14.4h-17zM1941.4 553l8.5 14.4h-17zM1942.5 553.8l8.5 14.4h-17zM1943.8 555.2l8.5 14.4h-17zM1943.5 558l8.5 14.4h-17zM1945.2 559.3l8.5 14.4h-17zM1946 560.1l8.5 14.4h-17zM1946.6 562.6l8.5 14.4h-17zM1946.9 564.5l8.5 14.4h-17zM1946.8 565.3l8.5 14.4h-17zM1947.5 567.4l8.5 14.4h-17zM1948.7 569.2l8.5 14.4h-17zM1949.1 571.1l8.5 14.4h-17zM1950.5 572.8l8.5 14.4h-17zM1950 573.7l8.5 14.4h-17zM1950.9 575.5l8.5 14.4h-17zM1952.1 577.1l8.5 14.4h-17zM1952.6 579l8.5 14.4h-17zM1952.4 581.3l8.5 14.4h-17zM1953.5 582.3l8.5 14.4h-17zM1952.8 585.1l8.5 14.4h-17zM1952.9 585.5l8.5 14.4h-17zM1953 588.3l8.5 14.4h-17zM1954 590.2l8.5 14.4h-17zM1953.9 590.7l8.5 14.4h-17zM1953.9 593.4l8.5 14.4h-17zM1954.2 594.3l8.5 14.4h-17zM1954.4 596.5l8.5 14.4h-17zM1954.6 598.2l8.5 14.4h-17zM1954.6 599.3l8.5 14.4h-17zM1955.8 602l8.5 14.4h-17zM1955.5 602.9l8.5 14.4h-17zM1955.6 605.2l8.5 14.4h-17zM1956.7 606.9l8.5 14.4h-17zM1957 608.6l8.5 14.4h-17zM1956.2 610.5l8.5 14.4h-17zM1957 612.2l8.5 14.4h-17zM1957.4 613.1l8.5 14.4h-17zM1957.2 615.9l8.5 14.4h-17zM1957 616.6l8.5 14.4h-17zM1957.2 618.7l8.5 14.4h-17zM1957.8 620.5l8.5 14.4h-17zM1958.3 622l8.5 14.4h-17zM1958 624.4l8.5 14.4h-17zM1958.5 626.6l8.5 14.4h-17zM1959.3 627.3l8.5 14.4h-17zM1958.6 629.4l8.5 14.4h-17zM1959.2 630.9l8.5 14.4h-17zM1959.9 632.4l8.5 14.4h-17zM1959.6 634l8.5 14.4h-17zM1960.5 636.4l8.5 14.4h-17zM1960.9 637.5l8.5 14.4h-17zM1960.7 639.9l8.5 14.4h-17zM1960.1 641.9l8.5 14.4h-17zM1961.5 642.6l8.5 14.4h-17zM1961.9 645.3l8.5 14.4h-17zM1961.6 646.7l8.5 14.4h-17zM1961.3 647.8l8.5 14.4h-17zM1961.7 650.6l8.5 14.4h-17zM1961.5 651.8l8.5 14.4h-17zM1961.7 653.9l8.5 14.4h-17zM1962.8 655.9l8.5 14.4h-17zM1962 656.9l8.5 14.4h-17zM1961.7 658.8l8.5 14.4h-17zM1963 661l8.5 14.4h-17zM1962.1 662.2l8.5 14.4h-17zM1962.2 663.9l8.5 14.4h-17zM1963.4 665.5l8.5 14.4h-17zM1963.4 668.1l8.5 14.4h-17zM1963.5 668.8l8.5 14.4h-17zM1963.7 671.6l8.5 14.4h-17zM1964 672l8.5 14.4h-17zM1962.7 674.2l8.5 14.4h-17zM1963.5 676.1l8.5 14.4h-17zM1963 678.1l8.5 14.4h-17zM1963.9 679.9l8.5 14.4h-17zM1963.8 681.5l8.5 14.4h-17zM1964.1 682.6l8.5 14.4h-17zM1963.8 684.4l8.5 14.4h-17zM1963.5 687l8.5 14.4h-17zM1963.9 688.2l8.5 14.4h-17zM1963.9 690.3l8.5 14.4h-17zM1963.8 692.1l8.5 14.4h-17zM1963.8 694.3l8.5 14.4h-17zM1964.1 695.7l8.5 14.4h-17zM1964.8 697l8.5 14.4h-17zM1964.6 698.6l8.5 14.4h-17zM1965.4 700.6l8.5 14.4h-17zM1965.3 701.9l8.5 14.4h-17zM1965.6 703.6l8.5 14.4h-17zM1965.5 706l8.5 14.4h-17zM1965.8 707.6l8.5 14.4h-17zM1966 708.8l8.5 14.4h-17zM1966.7 711.2l8.5 14.4h-17zM1966.5 713.3l8.5 14.4h-17zM1966.3 714.2l8.5 14.4h-17zM1966.3 715.9l8.5 14.4h-17zM1966.4 717.7l8.5 14.4h-17zM1966.5 719.6l8.5 14.4h-17zM1966.7 721.2l8.5 14.4h-17zM1967.4 722.9l8.5 14.4h-17zM1967.9 725.3l8.5 14.4h-17zM1967.3 727.1l8.5 14.4h-17zM1967.2 727.8l8.5 14.4h-17zM1968.5 729.4l8.5 14.4h-17zM1967.3 732.3l8.5 14.4h-17zM1967.5 733.8l8.5 14.4h-17zM1968.4 734.9l8.5 14.4h-17zM1968.1 737.7l8.5 14.4h-17zM1968.5 738.4l8.5 14.4h-17zM1968.7 740.8l8.5 14.4h-17zM1968.6 741.6l8.5 14.4h-17zM1969.5 743.4l8.5 14.4h-17zM1968.6 745l8.5 14.4h-17zM1970 747.3l8.5 14.4h-17zM1969.8 749.2l8.5 14.4h-17zM1970.3 750.7l8.5 14.4h-17zM1969.5 752.9l8.5 14.4h-17zM1969.2 754.2l8.5 14.4h-17zM1970.4 756.2l8.5 14.4h-17zM1970.2 758.5l8.5 14.4h-17zM1970.2 759.9l8.5 14.4h-17zM1970.3 760.7l8.5 14.4h-17zM1970.4 762.7l8.5 14.4h-17zM1970.1 764.5l8.5 14.4h-17zM1970.4 766.5l8.5 14.4h-17zM1971.4 768.6l8.5 14.4h-17zM1971.7 769.8l8.5 14.4h-17zM1971.5 772.3l8.5 14.4h-17zM1971.3 774.1l8.5 14.4h-17zM1971 775.8l8.5 14.4h-17zM1972.3 777.6l8.5 14.4h-17zM1972.3 779l8.5 14.4h-17zM1971.9 780.7l8.5 14.4h-17zM1972.7 782.3l8.5 14.4h-17zM1972.5 784.5l8.5 14.4h-17zM1972.1 785.4l8.5 14.4h-17zM1971.9 787.9l8.5 14.4h-17zM1972.8 789.4l8.5 14.4h-17zM1972.4 790.4l8.5 14.4h-17zM1972.8 793.1l8.5 14.4h-17zM1972.7 794.2l8.5 14.4h-17zM1972.9 796.6l8.5 14.4h-17zM1972.6 798.4l8.5 14.4h-17zM1972.5 799.9l8.5 14.4h-17zM1973.7 801.3l8.5 14.4h-17zM1973.7 802.8l8.5 14.4h-17zM1973 804.6l8.5 14.4h-17zM1973.2 806.9l8.5 14.4h-17zM1973.7 808.5l8.5 14.4h-17zM1974.4 810.4l8.5 14.4h-17zM1974.2 812.4l8.5 14.4h-17zM1974.5 813.9l8.5 14.4h-17zM1973.8 815.3l8.5 14.4h-17zM1974.4 817.4l8.5 14.4h-17zM1974.7 819.1l8.5 14.4h-17zM1974.5 820.2l8.5 14.4h-17zM1974.5 821.8l8.5 14.4h-17zM1974.6 823.5l8.5 14.4h-17zM1973.8 826.4l8.5 14.4h-17zM1975.1 827.2l8.5 14.4h-17zM1974 829.7l8.5 14.4h-17zM1975.1 830.5l8.5 14.4h-17zM1975.3 833.2l8.5 14.4h-17zM1975 834.1l8.5 14.4h-17zM1974.4 835.6l8.5 14.4h-17zM1975 838.2l8.5 14.4h-17zM1975.4 839.3l8.5 14.4h-17zM1975.7 840.8l8.5 14.4h-17zM1975.5 842.7l8.5 14.4h-17zM1974.7 844.5l8.5 14.4h-17zM1975.9 846.3l8.5 14.4h-17zM1974.9 848.4l8.5 14.4h-17zM1975.4 850.2l8.5 14.4h-17zM1975.8 852.2l8.5 14.4h-17zM1976.4 853.4l8.5 14.4h-17zM1976.1 854.8l8.5 14.4h-17zM1975.6 856.5l8.5 14.4h-17zM1976.6 858.6l8.5 14.4h-17zM1976.4 861.1l8.5 14.4h-17zM1976 861.9l8.5 14.4h-17zM1975.9 864.1l8.5 14.4h-17zM1976.2 865.2l8.5 14.4h-17zM1976.9 867.8l8.5 14.4h-17zM1977 869.8l8.5 14.4h-17zM1976.9 871.5l8.5 14.4h-17zM1976.9 872.7l8.5 14.4h-17zM1977.2 875.1l8.5 14.4h-17zM1976.2 875.8l8.5 14.4h-17zM1976.4 878l8.5 14.4h-17zM1977.4 879.8l8.5 14.4h-17zM1977.5 881.3l8.5 14.4h-17zM1977.2 882.9l8.5 14.4h-17zM1977.3 884.7l8.5 14.4h-17zM1976.5 886.6l8.5 14.4h-17zM1977.4 889l8.5 14.4h-17z" fill="#00ffff" fill-rule="nonzero"/>
<rect x="337.4" y="162.4" width="308.2" height="116.8" fill="none" stroke="#262626" stroke-width="2.1"/>
<path d="M416.4 204.2l-8.5 -14.4h17zM416.4 195.7l0.9 -1.7h-1.9z" fill="#ff0000" fill-rule="nonzero"/>
<path d="M416.4 237l8.5 14.4h-17zM416.4 245.5l-0.9 1.7h1.9z" fill="#ff00ff" fill-rule="nonzero"/>
<rect x="1766.9" y="1404.8" width="311.9" height="121" fill="none" stroke="#262626" stroke-width="2.1"/>
<path d="M1845.5 1447.3l-8.5 -14.4h17zM1845.5 1438.8l0.9 -1.7h-1.9z" fill="#0000ff" fill-rule="nonzero"/>
<path d="M1845.5 1481.9l8.5 14.4h-17zM1845.5 1490.4l-0.9 1.7h1.9z" fill="#00ffff" fill-rule="nonzero"/>
<text transform="matrix(0.9854 0 0 1 0 99.60)" x="287.9 303.6" font-size="44.15" fill="#ff0000">-2</text>
<text transform="matrix(0.9507 0 0 1 0 99.60)" x="514.3 530.8 557.8 572.1" font-size="44.15" fill="#ff0000">-1.5</text>
<text transform="matrix(0.9324 0 0 1 0 99.60)" x="789.2 805.4" font-size="44.15" fill="#ff0000">-1</text>
<text transform="matrix(0.9720 0 0 1 0 99.60)" x="967.8 984.1 1010.6 1024.5" font-size="44.15" fill="#ff0000">-0.5</text>
<text transform="matrix(0.9297 0 0 1 0 99.60)" x="1285.9" font-size="44.15" fill="#ff0000">0</text>
<text transform="matrix(0.9599 0 0 1 0 99.60)" x="1461.3 1488 1502.1" font-size="44.15" fill="#ff0000">0.5</text>
<text transform="matrix(0.8379 0 0 1 0 99.60)" x="1968" font-size="44.15" fill="#ff0000">1</text>
<text transform="matrix(0.9404 0 0 1 0 99.60)" x="1972.5 1999.7 2014.4" font-size="44.15" fill="#ff0000">1.5</text>
<text transform="matrix(0.9906 0 0 1 0 99.60)" x="2118.9" font-size="44.15" fill="#ff0000">2</text>
<text transform="matrix(0.9744 0 0 1 0 1616.90)" x="286.1 313" font-size="44.15" fill="#0000ff">32</text>
<text transform="matrix(0.9573 0 0 1 0 1616.90)" x="479.1 506.1 533.5 548.2 575.7 603.2" font-size="44.15" fill="#0000ff">32.375</text>
<text transform="matrix(0.9571 0 0 1 0 1616.90)" x="728.3 755.3 782.7 797.2 824.8" font-size="44.15" fill="#0000ff">32.75</text>
<text transform="matrix(0.9569 0 0 1 0 1616.90)" x="951.2 978.9 1005.8 1020.3 1047.7 1075.8" font-size="44.15" fill="#0000ff">33.125</text>
<text transform="matrix(0.9439 0 0 1 0 1616.90)" x="1230.5 1258.3 1285.2 1299.7" font-size="44.15" fill="#0000ff">33.5</text>
<text transform="matrix(0.9704 0 0 1 0 1616.90)" x="1403.9 1431.3 1458 1472.4 1499.8 1527.1" font-size="44.15" fill="#0000ff">33.875</text>
<text transform="matrix(0.9637 0 0 1 0 1616.90)" x="1661.9 1689.3 1716 1729.9 1757.8" font-size="44.15" fill="#0000ff">34.25</text>
<text transform="matrix(0.9787 0 0 1 0 1616.90)" x="1854 1881.1 1907.6 1921.8 1948.4 1975.9" font-size="44.15" fill="#0000ff">34.625</text>
<text transform="matrix(0.9445 0 0 1 0 1616.90)" x="2209.7 2237.4" font-size="44.15" fill="#0000ff">35</text>
<text transform="matrix(1.0361 0 0 1 0 144.70)" x="248.9" font-size="44.15" fill="#262626">0</text>
<text transform="matrix(1.0361 0 0 1 0 144.70)" x="2055.1" font-size="44.15" fill="#262626">0</text>
<text transform="matrix(0.9938 0 0 1 0 287.70)" x="206.2 233.3 260.3" font-size="44.15" fill="#262626">100</text>
<text transform="matrix(0.9938 0 0 1 0 287.70)" x="2142.6 2169.7 2196.7" font-size="44.15" fill="#262626">100</text>
<text transform="matrix(0.9980 0 0 1 0 430.70)" x="205 232.3 259.1" font-size="44.15" fill="#262626">200</text>
<text transform="matrix(0.9980 0 0 1 0 430.70)" x="2133.2 2160.5 2187.4" font-size="44.15" fill="#262626">200</text>
<text transform="matrix(0.9957 0 0 1 0 572.70)" x="206 232.8 259.8" font-size="44.15" fill="#262626">300</text>
<text transform="matrix(0.9957 0 0 1 0 572.70)" x="2138.7 2165.5 2192.4" font-size="44.15" fill="#262626">300</text>
<text transform="matrix(1.0078 0 0 1 0 715.70)" x="203.3 229.9 256.5" font-size="44.15" fill="#262626">400</text>
<text transform="matrix(1.0078 0 0 1 0 715.70)" x="2112.9 2139.5 2166" font-size="44.15" fill="#262626">400</text>
<text transform="matrix(0.9890 0 0 1 0 858.70)" x="207.3 234.5 261.6" font-size="44.15" fill="#262626">500</text>
<text transform="matrix(0.9890 0 0 1 0 858.70)" x="2152.9 2180.1 2207.2" font-size="44.15" fill="#262626">500</text>
<text transform="matrix(1.0179 0 0 1 0 1001.70)" x="201.2 227.5 253.8" font-size="44.15" fill="#262626">600</text>
<text transform="matrix(1.0179 0 0 1 0 1001.70)" x="2091.7 2118 2144.3" font-size="44.15" fill="#262626">600</text>
<text transform="matrix(0.9997 0 0 1 0 1144.70)" x="205.1 231.9 258.7" font-size="44.15" fill="#262626">700</text>
<text transform="matrix(0.9997 0 0 1 0 1144.70)" x="2129.9 2156.7 2183.5" font-size="44.15" fill="#262626">700</text>
<text transform="matrix(1.0109 0 0 1 0 1287.70)" x="202.7 229.2 255.7" font-size="44.15" fill="#262626">800</text>
<text transform="matrix(1.0109 0 0 1 0 1287.70)" x="2106.4 2132.8 2159.3" font-size="44.15" fill="#262626">800</text>
<text transform="matrix(1.0179 0 0 1 0 1430.70)" x="201 227.5 253.8" font-size="44.15" fill="#262626">900</text>
<text transform="matrix(1.0179 0 0 1 0 1430.70)" x="2091.6 2118.1 2144.4" font-size="44.15" fill="#262626">900</text>
<text transform="matrix(0.9948 0 0 1 0 1573.70)" x="179.3 206.3 233.2 260" font-size="44.15" fill="#262626">1000</text>
<text transform="matrix(0.9948 0 0 1 0 1573.70)" x="2140.4 2167.4 2194.3 2221.2" font-size="44.15" fill="#262626">1000</text>
<text transform="translate(154.20,947.80) rotate(-90) scale(1.0106,1)" x="-4.1 28.2 54.1 81.2 96.3 121.6 134.3 152.6 192.8" font-size="44.15" fill="#262626">Depth (m)</text>
<text transform="matrix(1.0162 0 0 1 0 41.80)" x="1004 1030.6 1057.4 1097 1122.7 1149.6 1163.5 1191.9 1207 1234.5 1250.1 1275 1287.8 1305.9 1323.3 1355.8" font-size="44.15" fill="#ff0000">Temperature (°C)</text>
<text transform="matrix(0.9183 0 0 1 0 1674.40)" x="1160.1 1189.2 1218.6 1231.3 1244.8 1273 1286.9 1304.6 1329.2 1344.1 1361.4 1389.1 1419 1454.2" font-size="44.15" fill="#0000ff">Salinity (PSU)</text>
<text transform="matrix(0.9948 0 0 1 0 71.60)" x="305.9 332.4 359.3 386.4 413.3 440.2 467.2 494" font-size="44.15" fill="#000">p5580087</text>
<text transform="matrix(0.9832 0 0 1 0 71.60)" x="1410.6 1439.5 1467 1483.3 1493.2 1521.1 1531.9 1550.9 1582 1595.3 1610 1637.1 1664.1 1691.1 1716.9 1730.4 1742.5 1773.3 1803.1 1827.3 1840.6 1855.1 1882.4 1909.2 1923.6 1950.5 1977.6 1991.5 2019 2045.6 2073.2" font-size="44.15" fill="#000">Serial #: 0363  CAL: 13/01/2023</text>
<text transform="matrix(0.9495 0 0 1 0 1715.70)" x="320.5 349 375.8 384.6 403.7 432.8 459.5 476 504.5 531.9 560.3 586.7 602.3 630.4 658 673.2 701 728.8 743.4 771.8" font-size="44.15" fill="#000">26-Jan-2025 10:05:25</text>
<text transform="matrix(0.9661 0 0 1 0 1715.70)" x="1061.9 1092.7 1119.4 1131.4 1143.4 1155.8 1182.9 1209.2 1223.9 1252 1278.5 1287.1 1305.8 1334.5 1360.8 1377 1405 1432.1 1460 1486.2 1501.4 1529 1556.3 1571.2 1598.5 1625.9 1640.9 1668.3 1695.7" font-size="44.15" fill="#000">Belling 26-Jan-2025 07:31:30Z</text>
<text transform="matrix(1.0274 0 0 1 0 207.40)" x="477.6 500.9 513 536.6 547 568.1" font-size="39.73" fill="#000">T dive</text>
<text transform="matrix(1.0262 0 0 1 0 258.75)" x="478.1 501.4 512.7 533.8 544 554.8 589.8" font-size="39.73" fill="#000">T climb</text>
<text transform="matrix(0.9801 0 0 1 0 1451.10)" x="1958.1 1983.5 1996.8 2021.3 2032.6 2054.9" font-size="39.73" fill="#000">S dive</text>
<text transform="matrix(0.9824 0 0 1 0 1504.30)" x="1953.5 1978.7 1991.1 2012.9 2023.6 2035.5 2071.9" font-size="39.73" fill="#000">S climb</text>
</svg></body></html>
